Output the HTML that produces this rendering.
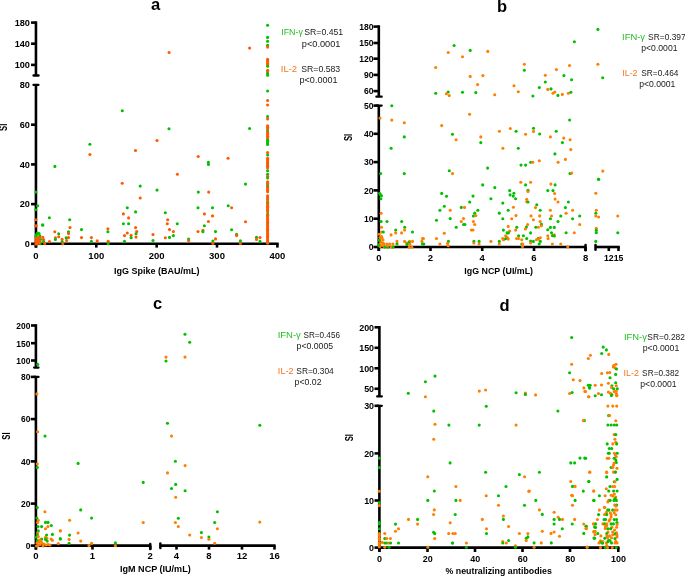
<!DOCTYPE html>
<html><head><meta charset="utf-8"><style>
html,body{margin:0;padding:0;background:#fff;}
svg{display:block;will-change:transform;}
text{font-family:"Liberation Sans",sans-serif;}
</style></head><body>
<svg width="685" height="576" viewBox="0 0 685 576">
<rect width="685" height="576" fill="#fff"/>
<text x="151.0" y="9.9" font-size="16.6" font-weight="bold" text-anchor="start" fill="#000">a</text>
<line x1="35.95" y1="21.3" x2="35.95" y2="75.5" stroke="#000" stroke-width="2.6" stroke-linecap="butt"/>
<line x1="33.5" y1="75.5" x2="38.6" y2="75.5" stroke="#000" stroke-width="2.3" stroke-linecap="round"/>
<line x1="31.050000000000004" y1="22.6" x2="35.95" y2="22.6" stroke="#000" stroke-width="2.6" stroke-linecap="butt"/>
<text x="29.95" y="25.95" font-size="8.2" font-weight="bold" text-anchor="end" fill="#000" textLength="15.3" lengthAdjust="spacingAndGlyphs">180</text>
<line x1="31.050000000000004" y1="43.7" x2="35.95" y2="43.7" stroke="#000" stroke-width="2.6" stroke-linecap="butt"/>
<text x="29.95" y="47.05" font-size="8.2" font-weight="bold" text-anchor="end" fill="#000" textLength="15.3" lengthAdjust="spacingAndGlyphs">140</text>
<line x1="31.050000000000004" y1="64.9" x2="35.95" y2="64.9" stroke="#000" stroke-width="2.6" stroke-linecap="butt"/>
<text x="29.95" y="68.25" font-size="8.2" font-weight="bold" text-anchor="end" fill="#000" textLength="15.3" lengthAdjust="spacingAndGlyphs">100</text>
<line x1="35.95" y1="84.95" x2="35.95" y2="247.6" stroke="#000" stroke-width="2.6" stroke-linecap="butt"/>
<line x1="33.5" y1="84.95" x2="38.400000000000006" y2="84.95" stroke="#000" stroke-width="2.3" stroke-linecap="round"/>
<text x="29.95" y="88.3" font-size="8.2" font-weight="bold" text-anchor="end" fill="#000" textLength="10.2" lengthAdjust="spacingAndGlyphs">80</text>
<line x1="31.050000000000004" y1="124.7" x2="35.95" y2="124.7" stroke="#000" stroke-width="2.6" stroke-linecap="butt"/>
<text x="29.95" y="128.05" font-size="8.2" font-weight="bold" text-anchor="end" fill="#000" textLength="10.2" lengthAdjust="spacingAndGlyphs">60</text>
<line x1="31.050000000000004" y1="164.4" x2="35.95" y2="164.4" stroke="#000" stroke-width="2.6" stroke-linecap="butt"/>
<text x="29.95" y="167.75" font-size="8.2" font-weight="bold" text-anchor="end" fill="#000" textLength="10.2" lengthAdjust="spacingAndGlyphs">40</text>
<line x1="31.050000000000004" y1="204.1" x2="35.95" y2="204.1" stroke="#000" stroke-width="2.6" stroke-linecap="butt"/>
<text x="29.95" y="207.45" font-size="8.2" font-weight="bold" text-anchor="end" fill="#000" textLength="10.2" lengthAdjust="spacingAndGlyphs">20</text>
<line x1="31.050000000000004" y1="243.8" x2="35.95" y2="243.8" stroke="#000" stroke-width="2.6" stroke-linecap="butt"/>
<text x="29.95" y="247.15" font-size="8.2" font-weight="bold" text-anchor="end" fill="#000" textLength="5.1" lengthAdjust="spacingAndGlyphs">0</text>
<line x1="35.95" y1="243.8" x2="278.7" y2="243.8" stroke="#000" stroke-width="2.6" stroke-linecap="butt"/>
<line x1="35.95" y1="243.8" x2="35.95" y2="247.6" stroke="#000" stroke-width="2.6" stroke-linecap="butt"/>
<text x="35.95" y="259.0" font-size="8.4" font-weight="bold" text-anchor="middle" fill="#000" textLength="5.3" lengthAdjust="spacingAndGlyphs">0</text>
<line x1="96.3" y1="243.8" x2="96.3" y2="247.6" stroke="#000" stroke-width="2.6" stroke-linecap="butt"/>
<text x="96.3" y="259.0" font-size="8.4" font-weight="bold" text-anchor="middle" fill="#000" textLength="15.9" lengthAdjust="spacingAndGlyphs">100</text>
<line x1="156.65" y1="243.8" x2="156.65" y2="247.6" stroke="#000" stroke-width="2.6" stroke-linecap="butt"/>
<text x="156.65" y="259.0" font-size="8.4" font-weight="bold" text-anchor="middle" fill="#000" textLength="15.9" lengthAdjust="spacingAndGlyphs">200</text>
<line x1="217.0" y1="243.8" x2="217.0" y2="247.6" stroke="#000" stroke-width="2.6" stroke-linecap="butt"/>
<text x="217.0" y="259.0" font-size="8.4" font-weight="bold" text-anchor="middle" fill="#000" textLength="15.9" lengthAdjust="spacingAndGlyphs">300</text>
<line x1="277.4" y1="243.8" x2="277.4" y2="247.6" stroke="#000" stroke-width="2.6" stroke-linecap="butt"/>
<text x="277.4" y="259.0" font-size="8.4" font-weight="bold" text-anchor="middle" fill="#000" textLength="15.9" lengthAdjust="spacingAndGlyphs">400</text>
<text x="6.9" y="127.3" font-size="10" font-weight="bold" text-anchor="middle" fill="#000" textLength="7.2" lengthAdjust="spacingAndGlyphs" transform="rotate(-90 6.9 127.3)">SI</text>
<text x="497" y="11.8" font-size="16.5" font-weight="bold" text-anchor="start" fill="#000">b</text>
<line x1="378.8" y1="25.3" x2="378.8" y2="96.65" stroke="#000" stroke-width="2.6" stroke-linecap="butt"/>
<line x1="376.40000000000003" y1="96.65" x2="381.7" y2="96.65" stroke="#000" stroke-width="2.3" stroke-linecap="round"/>
<line x1="373.40000000000003" y1="26.6" x2="378.8" y2="26.6" stroke="#000" stroke-width="2.6" stroke-linecap="butt"/>
<text x="373.5" y="29.95" font-size="8.2" font-weight="bold" text-anchor="end" fill="#000" textLength="14.31" lengthAdjust="spacingAndGlyphs">180</text>
<line x1="373.40000000000003" y1="43.0" x2="378.8" y2="43.0" stroke="#000" stroke-width="2.6" stroke-linecap="butt"/>
<text x="373.5" y="46.35" font-size="8.2" font-weight="bold" text-anchor="end" fill="#000" textLength="14.31" lengthAdjust="spacingAndGlyphs">150</text>
<line x1="373.40000000000003" y1="58.7" x2="378.8" y2="58.7" stroke="#000" stroke-width="2.6" stroke-linecap="butt"/>
<text x="373.5" y="62.05" font-size="8.2" font-weight="bold" text-anchor="end" fill="#000" textLength="14.31" lengthAdjust="spacingAndGlyphs">120</text>
<line x1="373.40000000000003" y1="74.9" x2="378.8" y2="74.9" stroke="#000" stroke-width="2.6" stroke-linecap="butt"/>
<text x="373.5" y="78.25" font-size="8.2" font-weight="bold" text-anchor="end" fill="#000" textLength="9.54" lengthAdjust="spacingAndGlyphs">90</text>
<line x1="373.40000000000003" y1="91.1" x2="378.8" y2="91.1" stroke="#000" stroke-width="2.6" stroke-linecap="butt"/>
<text x="373.5" y="94.45" font-size="8.2" font-weight="bold" text-anchor="end" fill="#000" textLength="9.54" lengthAdjust="spacingAndGlyphs">60</text>
<line x1="378.8" y1="105.6" x2="378.8" y2="251.0" stroke="#000" stroke-width="2.6" stroke-linecap="butt"/>
<line x1="376.40000000000003" y1="105.6" x2="381.7" y2="105.6" stroke="#000" stroke-width="2.3" stroke-linecap="round"/>
<line x1="373.40000000000003" y1="105.6" x2="378.8" y2="105.6" stroke="#000" stroke-width="2.6" stroke-linecap="butt"/>
<text x="373.5" y="108.95" font-size="8.2" font-weight="bold" text-anchor="end" fill="#000" textLength="9.54" lengthAdjust="spacingAndGlyphs">50</text>
<line x1="373.40000000000003" y1="133.8" x2="378.8" y2="133.8" stroke="#000" stroke-width="2.6" stroke-linecap="butt"/>
<text x="373.5" y="137.15" font-size="8.2" font-weight="bold" text-anchor="end" fill="#000" textLength="9.54" lengthAdjust="spacingAndGlyphs">40</text>
<line x1="373.40000000000003" y1="162.1" x2="378.8" y2="162.1" stroke="#000" stroke-width="2.6" stroke-linecap="butt"/>
<text x="373.5" y="165.45" font-size="8.2" font-weight="bold" text-anchor="end" fill="#000" textLength="9.54" lengthAdjust="spacingAndGlyphs">30</text>
<line x1="373.40000000000003" y1="190.4" x2="378.8" y2="190.4" stroke="#000" stroke-width="2.6" stroke-linecap="butt"/>
<text x="373.5" y="193.75" font-size="8.2" font-weight="bold" text-anchor="end" fill="#000" textLength="9.54" lengthAdjust="spacingAndGlyphs">20</text>
<line x1="373.40000000000003" y1="218.7" x2="378.8" y2="218.7" stroke="#000" stroke-width="2.6" stroke-linecap="butt"/>
<text x="373.5" y="222.05" font-size="8.2" font-weight="bold" text-anchor="end" fill="#000" textLength="9.54" lengthAdjust="spacingAndGlyphs">10</text>
<line x1="373.40000000000003" y1="247.0" x2="378.8" y2="247.0" stroke="#000" stroke-width="2.6" stroke-linecap="butt"/>
<text x="373.5" y="250.35" font-size="8.2" font-weight="bold" text-anchor="end" fill="#000" textLength="4.77" lengthAdjust="spacingAndGlyphs">0</text>
<line x1="378.8" y1="247.0" x2="585.6" y2="247.0" stroke="#000" stroke-width="2.6" stroke-linecap="butt"/>
<line x1="585.55" y1="244.9" x2="585.55" y2="250.20000000000002" stroke="#000" stroke-width="2.5" stroke-linecap="round"/>
<line x1="378.8" y1="247.0" x2="378.8" y2="251.0" stroke="#000" stroke-width="2.6" stroke-linecap="butt"/>
<text x="378.8" y="260.8" font-size="8.4" font-weight="bold" text-anchor="middle" fill="#000" textLength="5.3" lengthAdjust="spacingAndGlyphs">0</text>
<line x1="430.5" y1="247.0" x2="430.5" y2="251.0" stroke="#000" stroke-width="2.6" stroke-linecap="butt"/>
<text x="430.5" y="260.8" font-size="8.4" font-weight="bold" text-anchor="middle" fill="#000" textLength="5.3" lengthAdjust="spacingAndGlyphs">2</text>
<line x1="482.2" y1="247.0" x2="482.2" y2="251.0" stroke="#000" stroke-width="2.6" stroke-linecap="butt"/>
<text x="482.2" y="260.8" font-size="8.4" font-weight="bold" text-anchor="middle" fill="#000" textLength="5.3" lengthAdjust="spacingAndGlyphs">4</text>
<line x1="534.0" y1="247.0" x2="534.0" y2="251.0" stroke="#000" stroke-width="2.6" stroke-linecap="butt"/>
<text x="534.0" y="260.8" font-size="8.4" font-weight="bold" text-anchor="middle" fill="#000" textLength="5.3" lengthAdjust="spacingAndGlyphs">6</text>
<line x1="585.55" y1="247.0" x2="585.55" y2="251.0" stroke="#000" stroke-width="2.6" stroke-linecap="butt"/>
<text x="585.55" y="260.8" font-size="8.4" font-weight="bold" text-anchor="middle" fill="#000" textLength="5.3" lengthAdjust="spacingAndGlyphs">8</text>
<line x1="595.5" y1="247.0" x2="619.8" y2="247.0" stroke="#000" stroke-width="2.6" stroke-linecap="butt"/>
<line x1="595.5" y1="244.9" x2="595.5" y2="249.70000000000002" stroke="#000" stroke-width="2.5" stroke-linecap="round"/>
<line x1="608.8" y1="247.0" x2="608.8" y2="251.0" stroke="#000" stroke-width="2.6" stroke-linecap="butt"/>
<line x1="618.5" y1="247.0" x2="618.5" y2="251.0" stroke="#000" stroke-width="2.6" stroke-linecap="butt"/>
<text x="613.7" y="260.8" font-size="8.4" font-weight="bold" text-anchor="middle" fill="#000" textLength="19.3" lengthAdjust="spacingAndGlyphs">1215</text>
<text x="352.4" y="137.4" font-size="10" font-weight="bold" text-anchor="middle" fill="#000" textLength="7.2" lengthAdjust="spacingAndGlyphs" transform="rotate(-90 352.4 137.4)">SI</text>
<text x="153.1" y="308.9" font-size="16.5" font-weight="bold" text-anchor="start" fill="#000">c</text>
<line x1="35.9" y1="324.2" x2="35.9" y2="367.6" stroke="#000" stroke-width="2.6" stroke-linecap="butt"/>
<line x1="34.1" y1="367.6" x2="38.5" y2="367.6" stroke="#000" stroke-width="2.3" stroke-linecap="round"/>
<line x1="31.0" y1="325.5" x2="35.9" y2="325.5" stroke="#000" stroke-width="2.6" stroke-linecap="butt"/>
<text x="30.4" y="328.85" font-size="8.2" font-weight="bold" text-anchor="end" fill="#000" textLength="14.04" lengthAdjust="spacingAndGlyphs">200</text>
<line x1="31.0" y1="343.2" x2="35.9" y2="343.2" stroke="#000" stroke-width="2.6" stroke-linecap="butt"/>
<text x="30.4" y="346.55" font-size="8.2" font-weight="bold" text-anchor="end" fill="#000" textLength="14.04" lengthAdjust="spacingAndGlyphs">150</text>
<line x1="31.0" y1="360.5" x2="35.9" y2="360.5" stroke="#000" stroke-width="2.6" stroke-linecap="butt"/>
<text x="30.4" y="363.85" font-size="8.2" font-weight="bold" text-anchor="end" fill="#000" textLength="14.04" lengthAdjust="spacingAndGlyphs">100</text>
<line x1="35.9" y1="376.9" x2="35.9" y2="549.6" stroke="#000" stroke-width="2.6" stroke-linecap="butt"/>
<line x1="34.1" y1="376.9" x2="38.5" y2="376.9" stroke="#000" stroke-width="2.3" stroke-linecap="round"/>
<line x1="30.7" y1="376.9" x2="35.9" y2="376.9" stroke="#000" stroke-width="2.6" stroke-linecap="butt"/>
<text x="30.4" y="380.25" font-size="8.2" font-weight="bold" text-anchor="end" fill="#000" textLength="9.36" lengthAdjust="spacingAndGlyphs">80</text>
<line x1="30.7" y1="419.1" x2="35.9" y2="419.1" stroke="#000" stroke-width="2.6" stroke-linecap="butt"/>
<text x="30.4" y="422.45" font-size="8.2" font-weight="bold" text-anchor="end" fill="#000" textLength="9.36" lengthAdjust="spacingAndGlyphs">60</text>
<line x1="30.7" y1="461.4" x2="35.9" y2="461.4" stroke="#000" stroke-width="2.6" stroke-linecap="butt"/>
<text x="30.4" y="464.75" font-size="8.2" font-weight="bold" text-anchor="end" fill="#000" textLength="9.36" lengthAdjust="spacingAndGlyphs">40</text>
<line x1="30.7" y1="503.6" x2="35.9" y2="503.6" stroke="#000" stroke-width="2.6" stroke-linecap="butt"/>
<text x="30.4" y="506.95" font-size="8.2" font-weight="bold" text-anchor="end" fill="#000" textLength="9.36" lengthAdjust="spacingAndGlyphs">20</text>
<line x1="30.7" y1="545.6" x2="35.9" y2="545.6" stroke="#000" stroke-width="2.6" stroke-linecap="butt"/>
<text x="30.4" y="548.95" font-size="8.2" font-weight="bold" text-anchor="end" fill="#000" textLength="4.68" lengthAdjust="spacingAndGlyphs">0</text>
<line x1="35.9" y1="545.6" x2="150.25" y2="545.6" stroke="#000" stroke-width="2.6" stroke-linecap="butt"/>
<line x1="150.25" y1="543.9000000000001" x2="150.25" y2="549.0" stroke="#000" stroke-width="2.5" stroke-linecap="round"/>
<line x1="35.9" y1="545.6" x2="35.9" y2="549.6" stroke="#000" stroke-width="2.6" stroke-linecap="butt"/>
<text x="35.9" y="559.3" font-size="8.4" font-weight="bold" text-anchor="middle" fill="#000" textLength="5.3" lengthAdjust="spacingAndGlyphs">0</text>
<line x1="92.5" y1="545.6" x2="92.5" y2="549.6" stroke="#000" stroke-width="2.6" stroke-linecap="butt"/>
<text x="92.5" y="559.3" font-size="8.4" font-weight="bold" text-anchor="middle" fill="#000" textLength="5.3" lengthAdjust="spacingAndGlyphs">1</text>
<line x1="150.25" y1="545.6" x2="150.25" y2="549.6" stroke="#000" stroke-width="2.6" stroke-linecap="butt"/>
<text x="150.25" y="559.3" font-size="8.4" font-weight="bold" text-anchor="middle" fill="#000" textLength="5.3" lengthAdjust="spacingAndGlyphs">2</text>
<line x1="160.35" y1="545.6" x2="275.6" y2="545.6" stroke="#000" stroke-width="2.6" stroke-linecap="butt"/>
<line x1="160.35" y1="543.5" x2="160.35" y2="548.0" stroke="#000" stroke-width="2.5" stroke-linecap="round"/>
<line x1="176.5" y1="545.6" x2="176.5" y2="549.6" stroke="#000" stroke-width="2.6" stroke-linecap="butt"/>
<text x="176.5" y="559.3" font-size="8.4" font-weight="bold" text-anchor="middle" fill="#000" textLength="5.3" lengthAdjust="spacingAndGlyphs">4</text>
<line x1="209.0" y1="545.6" x2="209.0" y2="549.6" stroke="#000" stroke-width="2.6" stroke-linecap="butt"/>
<text x="209.0" y="559.3" font-size="8.4" font-weight="bold" text-anchor="middle" fill="#000" textLength="5.3" lengthAdjust="spacingAndGlyphs">8</text>
<line x1="242.0" y1="545.6" x2="242.0" y2="549.6" stroke="#000" stroke-width="2.6" stroke-linecap="butt"/>
<text x="242.0" y="559.3" font-size="8.4" font-weight="bold" text-anchor="middle" fill="#000" textLength="10.6" lengthAdjust="spacingAndGlyphs">12</text>
<line x1="274.5" y1="545.6" x2="274.5" y2="549.6" stroke="#000" stroke-width="2.6" stroke-linecap="butt"/>
<text x="274.5" y="559.3" font-size="8.4" font-weight="bold" text-anchor="middle" fill="#000" textLength="10.6" lengthAdjust="spacingAndGlyphs">16</text>
<text x="10.2" y="436.1" font-size="10" font-weight="bold" text-anchor="middle" fill="#000" textLength="7.2" lengthAdjust="spacingAndGlyphs" transform="rotate(-90 10.2 436.1)">SI</text>
<text x="499.5" y="310.6" font-size="16.5" font-weight="bold" text-anchor="start" fill="#000">d</text>
<line x1="379.4" y1="326.0" x2="379.4" y2="396.4" stroke="#000" stroke-width="2.6" stroke-linecap="butt"/>
<line x1="377.2" y1="396.4" x2="381.79999999999995" y2="396.4" stroke="#000" stroke-width="2.3" stroke-linecap="round"/>
<line x1="374.5" y1="327.3" x2="379.4" y2="327.3" stroke="#000" stroke-width="2.6" stroke-linecap="butt"/>
<text x="374.1" y="330.65" font-size="8.2" font-weight="bold" text-anchor="end" fill="#000" textLength="14.91" lengthAdjust="spacingAndGlyphs">200</text>
<line x1="374.5" y1="347.8" x2="379.4" y2="347.8" stroke="#000" stroke-width="2.6" stroke-linecap="butt"/>
<text x="374.1" y="351.15" font-size="8.2" font-weight="bold" text-anchor="end" fill="#000" textLength="14.91" lengthAdjust="spacingAndGlyphs">150</text>
<line x1="374.5" y1="368.3" x2="379.4" y2="368.3" stroke="#000" stroke-width="2.6" stroke-linecap="butt"/>
<text x="374.1" y="371.65" font-size="8.2" font-weight="bold" text-anchor="end" fill="#000" textLength="14.91" lengthAdjust="spacingAndGlyphs">100</text>
<line x1="374.5" y1="388.75" x2="379.4" y2="388.75" stroke="#000" stroke-width="2.6" stroke-linecap="butt"/>
<text x="374.1" y="392.1" font-size="8.2" font-weight="bold" text-anchor="end" fill="#000" textLength="9.94" lengthAdjust="spacingAndGlyphs">50</text>
<line x1="379.4" y1="405.8" x2="379.4" y2="551.6" stroke="#000" stroke-width="2.6" stroke-linecap="butt"/>
<line x1="377.2" y1="405.8" x2="381.79999999999995" y2="405.8" stroke="#000" stroke-width="2.3" stroke-linecap="round"/>
<line x1="374.5" y1="405.8" x2="379.4" y2="405.8" stroke="#000" stroke-width="2.6" stroke-linecap="butt"/>
<text x="374.1" y="409.15" font-size="8.2" font-weight="bold" text-anchor="end" fill="#000" textLength="9.94" lengthAdjust="spacingAndGlyphs">30</text>
<line x1="374.5" y1="453.4" x2="379.4" y2="453.4" stroke="#000" stroke-width="2.6" stroke-linecap="butt"/>
<text x="374.1" y="456.75" font-size="8.2" font-weight="bold" text-anchor="end" fill="#000" textLength="9.94" lengthAdjust="spacingAndGlyphs">20</text>
<line x1="374.5" y1="500.5" x2="379.4" y2="500.5" stroke="#000" stroke-width="2.6" stroke-linecap="butt"/>
<text x="374.1" y="503.85" font-size="8.2" font-weight="bold" text-anchor="end" fill="#000" textLength="9.94" lengthAdjust="spacingAndGlyphs">10</text>
<line x1="374.5" y1="547.6" x2="379.4" y2="547.6" stroke="#000" stroke-width="2.6" stroke-linecap="butt"/>
<text x="374.1" y="550.95" font-size="8.2" font-weight="bold" text-anchor="end" fill="#000" textLength="4.97" lengthAdjust="spacingAndGlyphs">0</text>
<line x1="379.4" y1="547.6" x2="619.5" y2="547.6" stroke="#000" stroke-width="2.6" stroke-linecap="butt"/>
<line x1="379.4" y1="547.6" x2="379.4" y2="552.0" stroke="#000" stroke-width="2.6" stroke-linecap="butt"/>
<text x="379.59999999999997" y="561.8" font-size="8.4" font-weight="bold" text-anchor="middle" fill="#000" textLength="5.0" lengthAdjust="spacingAndGlyphs">0</text>
<line x1="427.5" y1="547.6" x2="427.5" y2="552.0" stroke="#000" stroke-width="2.6" stroke-linecap="butt"/>
<text x="427.7" y="561.8" font-size="8.4" font-weight="bold" text-anchor="middle" fill="#000" textLength="10.0" lengthAdjust="spacingAndGlyphs">20</text>
<line x1="475.0" y1="547.6" x2="475.0" y2="552.0" stroke="#000" stroke-width="2.6" stroke-linecap="butt"/>
<text x="475.2" y="561.8" font-size="8.4" font-weight="bold" text-anchor="middle" fill="#000" textLength="10.0" lengthAdjust="spacingAndGlyphs">40</text>
<line x1="522.5" y1="547.6" x2="522.5" y2="552.0" stroke="#000" stroke-width="2.6" stroke-linecap="butt"/>
<text x="522.7" y="561.8" font-size="8.4" font-weight="bold" text-anchor="middle" fill="#000" textLength="10.0" lengthAdjust="spacingAndGlyphs">60</text>
<line x1="570.0" y1="547.6" x2="570.0" y2="552.0" stroke="#000" stroke-width="2.6" stroke-linecap="butt"/>
<text x="570.2" y="561.8" font-size="8.4" font-weight="bold" text-anchor="middle" fill="#000" textLength="10.0" lengthAdjust="spacingAndGlyphs">80</text>
<line x1="618.3" y1="547.6" x2="618.3" y2="552.0" stroke="#000" stroke-width="2.6" stroke-linecap="butt"/>
<text x="618.5" y="561.8" font-size="8.4" font-weight="bold" text-anchor="middle" fill="#000" textLength="15.0" lengthAdjust="spacingAndGlyphs">100</text>
<text x="353" y="437.6" font-size="10" font-weight="bold" text-anchor="middle" fill="#000" textLength="7.2" lengthAdjust="spacingAndGlyphs" transform="rotate(-90 353 437.6)">SI</text>
<text x="281.24" y="35.3" font-size="8.2" font-weight="normal" text-anchor="start" fill="#1fbf1f" textLength="21.66" lengthAdjust="spacingAndGlyphs">IFN-&#947;</text>
<text x="304.27" y="35.3" font-size="8.2" font-weight="normal" text-anchor="start" fill="#1a1a1a" textLength="38.88" lengthAdjust="spacingAndGlyphs">SR=0.451</text>
<text x="301.84" y="46.5" font-size="8.2" font-weight="normal" text-anchor="start" fill="#1a1a1a" textLength="38.6" lengthAdjust="spacingAndGlyphs">p&lt;0.0001</text>
<text x="280.75" y="71.8" font-size="8.2" font-weight="normal" text-anchor="start" fill="#f7741f" textLength="16.38" lengthAdjust="spacingAndGlyphs">IL-2</text>
<text x="301.21" y="71.8" font-size="8.2" font-weight="normal" text-anchor="start" fill="#1a1a1a" textLength="39.02" lengthAdjust="spacingAndGlyphs">SR=0.583</text>
<text x="299.54" y="83.0" font-size="8.2" font-weight="normal" text-anchor="start" fill="#1a1a1a" textLength="38.05" lengthAdjust="spacingAndGlyphs">p&lt;0.0001</text>
<text x="622.09" y="39.5" font-size="8.2" font-weight="normal" text-anchor="start" fill="#1fbf1f" textLength="23.01" lengthAdjust="spacingAndGlyphs">IFN-&#947;</text>
<text x="648.14" y="39.5" font-size="8.2" font-weight="normal" text-anchor="start" fill="#1a1a1a" textLength="37.6" lengthAdjust="spacingAndGlyphs">SR=0.397</text>
<text x="641.28" y="50.5" font-size="8.2" font-weight="normal" text-anchor="start" fill="#1a1a1a" textLength="36.23" lengthAdjust="spacingAndGlyphs">p&lt;0.0001</text>
<text x="622.23" y="75.5" font-size="8.2" font-weight="normal" text-anchor="start" fill="#f7741f" textLength="15.34" lengthAdjust="spacingAndGlyphs">IL-2</text>
<text x="641.28" y="75.5" font-size="8.2" font-weight="normal" text-anchor="start" fill="#1a1a1a" textLength="37.19" lengthAdjust="spacingAndGlyphs">SR=0.464</text>
<text x="639.18" y="86.5" font-size="8.2" font-weight="normal" text-anchor="start" fill="#1a1a1a" textLength="36.16" lengthAdjust="spacingAndGlyphs">p&lt;0.0001</text>
<text x="277.68" y="337.75" font-size="8.2" font-weight="normal" text-anchor="start" fill="#1fbf1f" textLength="23.18" lengthAdjust="spacingAndGlyphs">IFN-&#947;</text>
<text x="303.5" y="337.75" font-size="8.2" font-weight="normal" text-anchor="start" fill="#1a1a1a" textLength="36.45" lengthAdjust="spacingAndGlyphs">SR=0.456</text>
<text x="296.56" y="348.7" font-size="8.2" font-weight="normal" text-anchor="start" fill="#1a1a1a" textLength="36.62" lengthAdjust="spacingAndGlyphs">p&lt;0.0005</text>
<text x="277.88" y="373.75" font-size="8.2" font-weight="normal" text-anchor="start" fill="#f7741f" textLength="15.56" lengthAdjust="spacingAndGlyphs">IL-2</text>
<text x="296.39" y="373.75" font-size="8.2" font-weight="normal" text-anchor="start" fill="#1a1a1a" textLength="37.41" lengthAdjust="spacingAndGlyphs">SR=0.304</text>
<text x="294.57" y="385.0" font-size="8.2" font-weight="normal" text-anchor="start" fill="#1a1a1a" textLength="26.96" lengthAdjust="spacingAndGlyphs">p&lt;0.02</text>
<text x="624.02" y="339.75" font-size="8.2" font-weight="normal" text-anchor="start" fill="#1fbf1f" textLength="22.93" lengthAdjust="spacingAndGlyphs">IFN-&#947;</text>
<text x="647.32" y="339.75" font-size="8.2" font-weight="normal" text-anchor="start" fill="#1a1a1a" textLength="37.6" lengthAdjust="spacingAndGlyphs">SR=0.282</text>
<text x="642.7" y="350.7" font-size="8.2" font-weight="normal" text-anchor="start" fill="#1a1a1a" textLength="36.64" lengthAdjust="spacingAndGlyphs">p&lt;0.0001</text>
<text x="623.61" y="375.75" font-size="8.2" font-weight="normal" text-anchor="start" fill="#f7741f" textLength="15.5" lengthAdjust="spacingAndGlyphs">IL-2</text>
<text x="642.13" y="375.75" font-size="8.2" font-weight="normal" text-anchor="start" fill="#1a1a1a" textLength="37.08" lengthAdjust="spacingAndGlyphs">SR=0.382</text>
<text x="640.31" y="386.7" font-size="8.2" font-weight="normal" text-anchor="start" fill="#1a1a1a" textLength="36.29" lengthAdjust="spacingAndGlyphs">p&lt;0.0001</text>
<text x="113.92" y="273.9" font-size="8.6" font-weight="bold" text-anchor="start" fill="#000" textLength="85.56" lengthAdjust="spacingAndGlyphs">IgG Spike (BAU/mL)</text>
<text x="464.38" y="274.0" font-size="8.6" font-weight="bold" text-anchor="start" fill="#000" textLength="68.65" lengthAdjust="spacingAndGlyphs">IgG NCP (UI/mL)</text>
<text x="120.06" y="572.4" font-size="8.6" font-weight="bold" text-anchor="start" fill="#000" textLength="70.65" lengthAdjust="spacingAndGlyphs">IgM NCP (IU/mL)</text>
<text x="445.56" y="573.8" font-size="8.6" font-weight="bold" text-anchor="start" fill="#000" textLength="106.3" lengthAdjust="spacingAndGlyphs">% neutralizing antibodies</text>
<circle cx="169.1" cy="52.5" r="1.55" fill="#ff5a00"/>
<circle cx="249.6" cy="48.1" r="1.55" fill="#ff5a00"/>
<circle cx="122.3" cy="110.7" r="1.55" fill="#00c000"/>
<circle cx="249.6" cy="128.5" r="1.55" fill="#00c000"/>
<circle cx="169.0" cy="128.7" r="1.55" fill="#00c000"/>
<circle cx="157.0" cy="140.5" r="1.55" fill="#ff5a00"/>
<circle cx="135.5" cy="150.5" r="1.55" fill="#ff5a00"/>
<circle cx="198.2" cy="156.5" r="1.55" fill="#ff5a00"/>
<circle cx="208.4" cy="162.3" r="1.55" fill="#00c000"/>
<circle cx="208.4" cy="164.4" r="1.55" fill="#00c000"/>
<circle cx="228.1" cy="158.3" r="1.55" fill="#ff5a00"/>
<circle cx="177.4" cy="174.3" r="1.55" fill="#ff5a00"/>
<circle cx="89.9" cy="144.2" r="1.55" fill="#00c000"/>
<circle cx="89.9" cy="154.5" r="1.55" fill="#ff5a00"/>
<circle cx="54.9" cy="166.4" r="1.55" fill="#00c000"/>
<circle cx="35.8" cy="192.1" r="1.55" fill="#00c000"/>
<circle cx="37.6" cy="205.8" r="1.55" fill="#00c000"/>
<circle cx="35.8" cy="209.8" r="1.55" fill="#00c000"/>
<circle cx="35.8" cy="219.8" r="1.55" fill="#ff5a00"/>
<circle cx="35.8" cy="226" r="1.55" fill="#ff5a00"/>
<circle cx="49.4" cy="217.7" r="1.55" fill="#00c000"/>
<circle cx="42.7" cy="224.7" r="1.55" fill="#00c000"/>
<circle cx="69.7" cy="219.7" r="1.55" fill="#00c000"/>
<circle cx="70" cy="227.6" r="1.55" fill="#ff5a00"/>
<circle cx="81.5" cy="229.6" r="1.55" fill="#00c000"/>
<circle cx="68.5" cy="231.8" r="1.55" fill="#00c000"/>
<circle cx="68.5" cy="233.6" r="1.55" fill="#ff5a00"/>
<circle cx="68.5" cy="237.6" r="1.55" fill="#ff5a00"/>
<circle cx="66.2" cy="237.9" r="1.55" fill="#00c000"/>
<circle cx="66.6" cy="240.6" r="1.55" fill="#ff5a00"/>
<circle cx="54.8" cy="231.8" r="1.55" fill="#ff5a00"/>
<circle cx="58.7" cy="233.8" r="1.55" fill="#00c000"/>
<circle cx="58.7" cy="236.7" r="1.55" fill="#ff5a00"/>
<circle cx="55.4" cy="237.7" r="1.55" fill="#ff5a00"/>
<circle cx="55.4" cy="239.5" r="1.55" fill="#00c000"/>
<circle cx="62.1" cy="239.4" r="1.55" fill="#ff5a00"/>
<circle cx="62.1" cy="241.7" r="1.55" fill="#00c000"/>
<circle cx="62.8" cy="243.7" r="1.55" fill="#ff5a00"/>
<circle cx="81.5" cy="237.6" r="1.55" fill="#ff5a00"/>
<circle cx="91.4" cy="237.6" r="1.55" fill="#ff5a00"/>
<circle cx="91.4" cy="241.4" r="1.55" fill="#00c000"/>
<circle cx="97.2" cy="240.9" r="1.55" fill="#ff5a00"/>
<circle cx="49.5" cy="241.6" r="1.55" fill="#ff5a00"/>
<circle cx="107.9" cy="228.7" r="1.55" fill="#ff5a00"/>
<circle cx="107.9" cy="231.8" r="1.55" fill="#00c000"/>
<circle cx="108.2" cy="241.2" r="1.55" fill="#ff5a00"/>
<circle cx="108.2" cy="243.7" r="1.55" fill="#00c000"/>
<circle cx="36.4" cy="225.7" r="1.55" fill="#ff5a00"/>
<circle cx="42.7" cy="225.2" r="1.55" fill="#00c000"/>
<circle cx="36.5" cy="234.5" r="1.55" fill="#00c000"/>
<circle cx="39" cy="233.5" r="1.55" fill="#00c000"/>
<circle cx="39.8" cy="235.8" r="1.55" fill="#00c000"/>
<circle cx="36" cy="236.3" r="1.55" fill="#00c000"/>
<circle cx="37.5" cy="233" r="1.55" fill="#00c000"/>
<circle cx="42.7" cy="237.3" r="1.55" fill="#ff5a00"/>
<circle cx="43.6" cy="239.5" r="1.55" fill="#ff5a00"/>
<circle cx="43.6" cy="241.6" r="1.55" fill="#00c000"/>
<circle cx="44.7" cy="243.6" r="1.55" fill="#ff5a00"/>
<circle cx="40.1" cy="243.8" r="1.55" fill="#00c000"/>
<circle cx="40.5" cy="239.5" r="1.55" fill="#00c000"/>
<circle cx="36" cy="238" r="1.55" fill="#ff5a00"/>
<circle cx="37.5" cy="239" r="1.55" fill="#ff5a00"/>
<circle cx="36" cy="240.5" r="1.55" fill="#ff5a00"/>
<circle cx="38" cy="241" r="1.55" fill="#ff5a00"/>
<circle cx="36.5" cy="242.5" r="1.55" fill="#ff5a00"/>
<circle cx="38.5" cy="243" r="1.55" fill="#ff5a00"/>
<circle cx="40" cy="241.5" r="1.55" fill="#ff5a00"/>
<circle cx="39.5" cy="238" r="1.55" fill="#ff5a00"/>
<circle cx="35.8" cy="244" r="1.55" fill="#ff5a00"/>
<circle cx="37" cy="244" r="1.55" fill="#ff5a00"/>
<circle cx="38.6" cy="237.6" r="1.55" fill="#ff5a00"/>
<circle cx="122.2" cy="183.2" r="1.55" fill="#ff5a00"/>
<circle cx="140.2" cy="186.1" r="1.55" fill="#00c000"/>
<circle cx="140.2" cy="198" r="1.55" fill="#ff5a00"/>
<circle cx="157" cy="190.1" r="1.55" fill="#00c000"/>
<circle cx="127.3" cy="207.8" r="1.55" fill="#00c000"/>
<circle cx="135.6" cy="211.9" r="1.55" fill="#00c000"/>
<circle cx="123.4" cy="213.9" r="1.55" fill="#ff5a00"/>
<circle cx="128.6" cy="217.9" r="1.55" fill="#ff5a00"/>
<circle cx="123.4" cy="223.8" r="1.55" fill="#00c000"/>
<circle cx="128.6" cy="223.8" r="1.55" fill="#00c000"/>
<circle cx="135.6" cy="227.6" r="1.55" fill="#ff5a00"/>
<circle cx="136.7" cy="231.6" r="1.55" fill="#ff5a00"/>
<circle cx="136" cy="233.7" r="1.55" fill="#00c000"/>
<circle cx="136" cy="237.1" r="1.55" fill="#ff5a00"/>
<circle cx="127.3" cy="233" r="1.55" fill="#ff5a00"/>
<circle cx="124.5" cy="235.6" r="1.55" fill="#ff5a00"/>
<circle cx="131.1" cy="235.4" r="1.55" fill="#ff5a00"/>
<circle cx="131.1" cy="237.7" r="1.55" fill="#00c000"/>
<circle cx="124.5" cy="241.4" r="1.55" fill="#00c000"/>
<circle cx="153" cy="234.5" r="1.55" fill="#ff5a00"/>
<circle cx="153" cy="240.5" r="1.55" fill="#00c000"/>
<circle cx="165.3" cy="212.8" r="1.55" fill="#00c000"/>
<circle cx="167.7" cy="219.7" r="1.55" fill="#ff5a00"/>
<circle cx="167.3" cy="223.8" r="1.55" fill="#ff5a00"/>
<circle cx="177.3" cy="223.8" r="1.55" fill="#00c000"/>
<circle cx="169.5" cy="229.6" r="1.55" fill="#ff5a00"/>
<circle cx="173.4" cy="231.6" r="1.55" fill="#ff5a00"/>
<circle cx="173.4" cy="235.6" r="1.55" fill="#00c000"/>
<circle cx="169.5" cy="237.4" r="1.55" fill="#00c000"/>
<circle cx="165.3" cy="237.7" r="1.55" fill="#ff5a00"/>
<circle cx="188.6" cy="239.1" r="1.55" fill="#00c000"/>
<circle cx="188.6" cy="240.6" r="1.55" fill="#ff5a00"/>
<circle cx="198.3" cy="192.1" r="1.55" fill="#00c000"/>
<circle cx="208.7" cy="192.1" r="1.55" fill="#ff5a00"/>
<circle cx="245.5" cy="184.1" r="1.55" fill="#00c000"/>
<circle cx="198" cy="207.8" r="1.55" fill="#00c000"/>
<circle cx="212.5" cy="207.8" r="1.55" fill="#00c000"/>
<circle cx="228.2" cy="205.8" r="1.55" fill="#00c000"/>
<circle cx="231.6" cy="207.8" r="1.55" fill="#ff5a00"/>
<circle cx="204.4" cy="213.9" r="1.55" fill="#ff5a00"/>
<circle cx="212.5" cy="215.9" r="1.55" fill="#ff5a00"/>
<circle cx="208.4" cy="221.5" r="1.55" fill="#ff5a00"/>
<circle cx="245.5" cy="221.7" r="1.55" fill="#ff5a00"/>
<circle cx="204.4" cy="225.8" r="1.55" fill="#00c000"/>
<circle cx="198" cy="231.5" r="1.55" fill="#ff5a00"/>
<circle cx="202.9" cy="230.4" r="1.55" fill="#ff5a00"/>
<circle cx="202.9" cy="231.8" r="1.55" fill="#00c000"/>
<circle cx="215.5" cy="231.6" r="1.55" fill="#00c000"/>
<circle cx="231.6" cy="229.8" r="1.55" fill="#00c000"/>
<circle cx="236.6" cy="234.4" r="1.55" fill="#00c000"/>
<circle cx="236.6" cy="235.6" r="1.55" fill="#ff5a00"/>
<circle cx="215.5" cy="238.9" r="1.55" fill="#ff5a00"/>
<circle cx="212.9" cy="241.1" r="1.55" fill="#00c000"/>
<circle cx="212.9" cy="243.5" r="1.55" fill="#ff5a00"/>
<circle cx="240.4" cy="240.9" r="1.55" fill="#00c000"/>
<circle cx="240.4" cy="243.5" r="1.55" fill="#ff5a00"/>
<circle cx="256.5" cy="237.3" r="1.55" fill="#00c000"/>
<circle cx="256.5" cy="239.4" r="1.55" fill="#ff5a00"/>
<circle cx="260" cy="237.6" r="1.55" fill="#ff5a00"/>
<circle cx="260" cy="241.4" r="1.55" fill="#00c000"/>
<circle cx="267.6" cy="25.3" r="1.55" fill="#00c000"/>
<circle cx="267.6" cy="37.4" r="1.55" fill="#00c000"/>
<circle cx="267.6" cy="41.3" r="1.55" fill="#00c000"/>
<circle cx="267.6" cy="45.4" r="1.55" fill="#00c000"/>
<circle cx="267.6" cy="47.1" r="1.55" fill="#ff5a00"/>
<circle cx="267.6" cy="59.2" r="1.55" fill="#ff5a00"/>
<circle cx="267.6" cy="60.6" r="1.55" fill="#ff5a00"/>
<circle cx="267.6" cy="62.0" r="1.55" fill="#ff5a00"/>
<circle cx="267.6" cy="63.4" r="1.55" fill="#ff5a00"/>
<circle cx="267.6" cy="64.8" r="1.55" fill="#ff5a00"/>
<circle cx="267.6" cy="66.2" r="1.55" fill="#00c000"/>
<circle cx="267.6" cy="70.3" r="1.55" fill="#ff5a00"/>
<circle cx="267.6" cy="71.7" r="1.55" fill="#ff5a00"/>
<circle cx="267.6" cy="73.5" r="1.55" fill="#00c000"/>
<circle cx="267.6" cy="75.3" r="1.55" fill="#00c000"/>
<circle cx="267.6" cy="91" r="1.55" fill="#00c000"/>
<circle cx="267.6" cy="100.5" r="1.55" fill="#ff5a00"/>
<circle cx="267.6" cy="105" r="1.55" fill="#ff5a00"/>
<circle cx="267.6" cy="116.5" r="1.55" fill="#00c000"/>
<circle cx="267.6" cy="118.9" r="1.55" fill="#ff5a00"/>
<circle cx="267.6" cy="125.8" r="1.55" fill="#ff5a00"/>
<circle cx="267.6" cy="127.2" r="1.55" fill="#ff5a00"/>
<circle cx="267.6" cy="128.6" r="1.55" fill="#ff5a00"/>
<circle cx="267.6" cy="130.9" r="1.55" fill="#00c000"/>
<circle cx="267.6" cy="132" r="1.55" fill="#ff5a00"/>
<circle cx="267.6" cy="133.4" r="1.55" fill="#ff5a00"/>
<circle cx="267.6" cy="134.8" r="1.55" fill="#ff5a00"/>
<circle cx="267.6" cy="136.2" r="1.55" fill="#ff5a00"/>
<circle cx="267.6" cy="137.6" r="1.55" fill="#ff5a00"/>
<circle cx="267.6" cy="139.0" r="1.55" fill="#ff5a00"/>
<circle cx="267.6" cy="140.3" r="1.55" fill="#00c000"/>
<circle cx="267.6" cy="141.7" r="1.55" fill="#00c000"/>
<circle cx="267.6" cy="143.1" r="1.55" fill="#00c000"/>
<circle cx="267.6" cy="144.5" r="1.55" fill="#00c000"/>
<circle cx="267.6" cy="152.6" r="1.55" fill="#ff5a00"/>
<circle cx="267.6" cy="155" r="1.55" fill="#00c000"/>
<circle cx="267.6" cy="158.2" r="1.55" fill="#ff5a00"/>
<circle cx="267.6" cy="159.6" r="1.55" fill="#ff5a00"/>
<circle cx="267.6" cy="161.0" r="1.55" fill="#ff5a00"/>
<circle cx="267.6" cy="162.4" r="1.55" fill="#ff5a00"/>
<circle cx="267.6" cy="163.8" r="1.55" fill="#ff5a00"/>
<circle cx="267.6" cy="165.2" r="1.55" fill="#ff5a00"/>
<circle cx="267.6" cy="166.6" r="1.55" fill="#ff5a00"/>
<circle cx="267.6" cy="168.0" r="1.55" fill="#ff5a00"/>
<circle cx="267.6" cy="170.7" r="1.55" fill="#00c000"/>
<circle cx="267.6" cy="174.2" r="1.55" fill="#00c000"/>
<circle cx="267.6" cy="176.2" r="1.55" fill="#ff5a00"/>
<circle cx="267.6" cy="178" r="1.55" fill="#00c000"/>
<circle cx="267.6" cy="181.8" r="1.55" fill="#ff5a00"/>
<circle cx="267.6" cy="183.2" r="1.55" fill="#ff5a00"/>
<circle cx="267.6" cy="184.6" r="1.55" fill="#ff5a00"/>
<circle cx="267.6" cy="186.4" r="1.55" fill="#00c000"/>
<circle cx="267.6" cy="187.6" r="1.55" fill="#ff5a00"/>
<circle cx="267.6" cy="189.0" r="1.55" fill="#ff5a00"/>
<circle cx="267.6" cy="190.4" r="1.55" fill="#ff5a00"/>
<circle cx="267.6" cy="191.8" r="1.55" fill="#ff5a00"/>
<circle cx="267.6" cy="195.7" r="1.55" fill="#ff5a00"/>
<circle cx="267.6" cy="197.1" r="1.55" fill="#ff5a00"/>
<circle cx="267.6" cy="198.5" r="1.55" fill="#ff5a00"/>
<circle cx="267.6" cy="199.9" r="1.55" fill="#ff5a00"/>
<circle cx="267.6" cy="202.3" r="1.55" fill="#00c000"/>
<circle cx="267.6" cy="203.4" r="1.55" fill="#ff5a00"/>
<circle cx="267.6" cy="204.8" r="1.55" fill="#ff5a00"/>
<circle cx="267.6" cy="206.2" r="1.55" fill="#ff5a00"/>
<circle cx="267.6" cy="207.6" r="1.55" fill="#ff5a00"/>
<circle cx="267.6" cy="209.0" r="1.55" fill="#ff5a00"/>
<circle cx="267.6" cy="210.4" r="1.55" fill="#ff5a00"/>
<circle cx="267.6" cy="211.8" r="1.55" fill="#ff5a00"/>
<circle cx="267.6" cy="214.2" r="1.55" fill="#00c000"/>
<circle cx="267.6" cy="215.3" r="1.55" fill="#ff5a00"/>
<circle cx="267.6" cy="216.7" r="1.55" fill="#ff5a00"/>
<circle cx="267.6" cy="218.1" r="1.55" fill="#ff5a00"/>
<circle cx="267.6" cy="219.5" r="1.55" fill="#ff5a00"/>
<circle cx="267.6" cy="220.9" r="1.55" fill="#ff5a00"/>
<circle cx="267.6" cy="222.3" r="1.55" fill="#ff5a00"/>
<circle cx="267.6" cy="223.7" r="1.55" fill="#ff5a00"/>
<circle cx="267.6" cy="225.1" r="1.55" fill="#ff5a00"/>
<circle cx="267.6" cy="226.5" r="1.55" fill="#ff5a00"/>
<circle cx="267.6" cy="227.9" r="1.55" fill="#ff5a00"/>
<circle cx="267.6" cy="229.3" r="1.55" fill="#ff5a00"/>
<circle cx="267.6" cy="230.7" r="1.55" fill="#ff5a00"/>
<circle cx="267.6" cy="232.1" r="1.55" fill="#ff5a00"/>
<circle cx="267.6" cy="233.5" r="1.55" fill="#ff5a00"/>
<circle cx="267.6" cy="234.9" r="1.55" fill="#ff5a00"/>
<circle cx="267.6" cy="236.3" r="1.55" fill="#ff5a00"/>
<circle cx="267.6" cy="237.7" r="1.55" fill="#ff5a00"/>
<circle cx="267.6" cy="239.1" r="1.55" fill="#ff5a00"/>
<circle cx="267.6" cy="240.5" r="1.55" fill="#ff5a00"/>
<circle cx="267.6" cy="241.9" r="1.55" fill="#ff5a00"/>
<circle cx="267.6" cy="243.3" r="1.55" fill="#ff5a00"/>
<circle cx="454.1" cy="45.5" r="1.55" fill="#00c000"/>
<circle cx="448.2" cy="52.5" r="1.55" fill="#ff7f00"/>
<circle cx="435.7" cy="67.5" r="1.55" fill="#ff7f00"/>
<circle cx="435.7" cy="93.2" r="1.55" fill="#00c000"/>
<circle cx="448.2" cy="92" r="1.55" fill="#00c000"/>
<circle cx="446.4" cy="93.8" r="1.55" fill="#ff7f00"/>
<circle cx="449.2" cy="95.6" r="1.55" fill="#ff7f00"/>
<circle cx="470.2" cy="50.4" r="1.55" fill="#00c000"/>
<circle cx="487.8" cy="51.4" r="1.55" fill="#ff7f00"/>
<circle cx="462.5" cy="56.8" r="1.55" fill="#ff7f00"/>
<circle cx="524.4" cy="64.3" r="1.55" fill="#ff7f00"/>
<circle cx="524.4" cy="70.3" r="1.55" fill="#00c000"/>
<circle cx="470.2" cy="76.4" r="1.55" fill="#ff7f00"/>
<circle cx="482.9" cy="75.6" r="1.55" fill="#ff7f00"/>
<circle cx="477.6" cy="84.6" r="1.55" fill="#ff7f00"/>
<circle cx="514" cy="85.7" r="1.55" fill="#ff7f00"/>
<circle cx="518.3" cy="91.7" r="1.55" fill="#ff7f00"/>
<circle cx="462.5" cy="92.2" r="1.55" fill="#00c000"/>
<circle cx="475.8" cy="92.6" r="1.55" fill="#00c000"/>
<circle cx="494.7" cy="94.8" r="1.55" fill="#ff7f00"/>
<circle cx="532.9" cy="96" r="1.55" fill="#00c000"/>
<circle cx="597.9" cy="29.4" r="1.55" fill="#00c000"/>
<circle cx="574.4" cy="41.8" r="1.55" fill="#00c000"/>
<circle cx="569.5" cy="65.5" r="1.55" fill="#ff7f00"/>
<circle cx="597.9" cy="64.3" r="1.55" fill="#ff7f00"/>
<circle cx="556.4" cy="69.6" r="1.55" fill="#ff7f00"/>
<circle cx="545.3" cy="75.2" r="1.55" fill="#ff7f00"/>
<circle cx="563.9" cy="75.6" r="1.55" fill="#00c000"/>
<circle cx="571.6" cy="79.8" r="1.55" fill="#00c000"/>
<circle cx="545.3" cy="82" r="1.55" fill="#00c000"/>
<circle cx="602.7" cy="77.7" r="1.55" fill="#00c000"/>
<circle cx="539.3" cy="87.5" r="1.55" fill="#00c000"/>
<circle cx="547.8" cy="89.4" r="1.55" fill="#ff7f00"/>
<circle cx="551" cy="88.9" r="1.55" fill="#00c000"/>
<circle cx="553" cy="93.2" r="1.55" fill="#ff7f00"/>
<circle cx="554.8" cy="92" r="1.55" fill="#ff7f00"/>
<circle cx="557.9" cy="95.4" r="1.55" fill="#00c000"/>
<circle cx="562.3" cy="94.4" r="1.55" fill="#ff7f00"/>
<circle cx="568.4" cy="93.2" r="1.55" fill="#ff7f00"/>
<circle cx="570.9" cy="92.2" r="1.55" fill="#00c000"/>
<circle cx="391.8" cy="105.8" r="1.55" fill="#00c000"/>
<circle cx="380" cy="118.1" r="1.55" fill="#ff7f00"/>
<circle cx="391.8" cy="120.1" r="1.55" fill="#ff7f00"/>
<circle cx="404.3" cy="122.8" r="1.55" fill="#ff7f00"/>
<circle cx="441.7" cy="125.6" r="1.55" fill="#ff7f00"/>
<circle cx="404.3" cy="136.9" r="1.55" fill="#00c000"/>
<circle cx="452.5" cy="134.2" r="1.55" fill="#00c000"/>
<circle cx="391.1" cy="148.2" r="1.55" fill="#00c000"/>
<circle cx="380.6" cy="173.6" r="1.55" fill="#00c000"/>
<circle cx="404.3" cy="173.6" r="1.55" fill="#00c000"/>
<circle cx="449.3" cy="170.8" r="1.55" fill="#00c000"/>
<circle cx="452.5" cy="173.6" r="1.55" fill="#ff7f00"/>
<circle cx="469.6" cy="114.3" r="1.55" fill="#ff7f00"/>
<circle cx="510.3" cy="128.5" r="1.55" fill="#ff7f00"/>
<circle cx="499.4" cy="131.25" r="1.55" fill="#ff7f00"/>
<circle cx="516.1" cy="131.25" r="1.55" fill="#00c000"/>
<circle cx="533.5" cy="128.3" r="1.55" fill="#00c000"/>
<circle cx="533.5" cy="131.4" r="1.55" fill="#ff7f00"/>
<circle cx="525.6" cy="134.2" r="1.55" fill="#ff7f00"/>
<circle cx="456.1" cy="139.7" r="1.55" fill="#ff7f00"/>
<circle cx="480.8" cy="136.9" r="1.55" fill="#ff7f00"/>
<circle cx="480.8" cy="142.6" r="1.55" fill="#00c000"/>
<circle cx="502.9" cy="148.2" r="1.55" fill="#ff7f00"/>
<circle cx="518.3" cy="148.2" r="1.55" fill="#00c000"/>
<circle cx="487.6" cy="168.1" r="1.55" fill="#00c000"/>
<circle cx="521" cy="165.1" r="1.55" fill="#00c000"/>
<circle cx="525.6" cy="165.1" r="1.55" fill="#00c000"/>
<circle cx="530.7" cy="162.2" r="1.55" fill="#00c000"/>
<circle cx="532.8" cy="162.2" r="1.55" fill="#ff7f00"/>
<circle cx="569.6" cy="120" r="1.55" fill="#00c000"/>
<circle cx="556.25" cy="131.25" r="1.55" fill="#00c000"/>
<circle cx="539.7" cy="134" r="1.55" fill="#00c000"/>
<circle cx="550.4" cy="136.9" r="1.55" fill="#ff7f00"/>
<circle cx="563.75" cy="138.1" r="1.55" fill="#ff7f00"/>
<circle cx="570.1" cy="139.7" r="1.55" fill="#ff7f00"/>
<circle cx="562.4" cy="142.6" r="1.55" fill="#00c000"/>
<circle cx="570.8" cy="149.6" r="1.55" fill="#ff7f00"/>
<circle cx="554.9" cy="153.9" r="1.55" fill="#00c000"/>
<circle cx="539.3" cy="160.8" r="1.55" fill="#ff7f00"/>
<circle cx="558.1" cy="162.2" r="1.55" fill="#ff7f00"/>
<circle cx="565.4" cy="159.4" r="1.55" fill="#ff7f00"/>
<circle cx="570" cy="173.6" r="1.55" fill="#00c000"/>
<circle cx="571.7" cy="173.1" r="1.55" fill="#ff7f00"/>
<circle cx="602.8" cy="171.1" r="1.55" fill="#ff7f00"/>
<circle cx="598.5" cy="179.2" r="1.55" fill="#00c000"/>
<circle cx="379.6" cy="193.2" r="1.55" fill="#00c000"/>
<circle cx="380.2" cy="194.5" r="1.55" fill="#00c000"/>
<circle cx="381.5" cy="195.8" r="1.55" fill="#00c000"/>
<circle cx="380.9" cy="198.8" r="1.55" fill="#00c000"/>
<circle cx="381.1" cy="213.2" r="1.55" fill="#ff7f00"/>
<circle cx="381.1" cy="221.5" r="1.55" fill="#00c000"/>
<circle cx="387" cy="221.5" r="1.55" fill="#00c000"/>
<circle cx="401.7" cy="221.5" r="1.55" fill="#00c000"/>
<circle cx="381.5" cy="227.3" r="1.55" fill="#ff7f00"/>
<circle cx="381.5" cy="232" r="1.55" fill="#ff7f00"/>
<circle cx="383.3" cy="232" r="1.55" fill="#00c000"/>
<circle cx="379.2" cy="234.2" r="1.55" fill="#ff7f00"/>
<circle cx="391.1" cy="234.9" r="1.55" fill="#ff7f00"/>
<circle cx="395.7" cy="230" r="1.55" fill="#00c000"/>
<circle cx="395.7" cy="232.9" r="1.55" fill="#ff7f00"/>
<circle cx="401.6" cy="232.9" r="1.55" fill="#ff7f00"/>
<circle cx="404.7" cy="227.2" r="1.55" fill="#00c000"/>
<circle cx="404.6" cy="230.1" r="1.55" fill="#ff7f00"/>
<circle cx="412.5" cy="232" r="1.55" fill="#00c000"/>
<circle cx="380" cy="237.5" r="1.55" fill="#ff7f00"/>
<circle cx="382" cy="238" r="1.55" fill="#ff7f00"/>
<circle cx="383" cy="240" r="1.55" fill="#ff7f00"/>
<circle cx="380" cy="240" r="1.55" fill="#ff7f00"/>
<circle cx="381" cy="242" r="1.55" fill="#ff7f00"/>
<circle cx="383" cy="243" r="1.55" fill="#ff7f00"/>
<circle cx="380" cy="244" r="1.55" fill="#ff7f00"/>
<circle cx="382" cy="245.5" r="1.55" fill="#ff7f00"/>
<circle cx="380" cy="246.5" r="1.55" fill="#ff7f00"/>
<circle cx="384" cy="246.5" r="1.55" fill="#ff7f00"/>
<circle cx="381.5" cy="236.5" r="1.55" fill="#ff7f00"/>
<circle cx="379.2" cy="240.2" r="1.55" fill="#00c000"/>
<circle cx="378.6" cy="245.4" r="1.55" fill="#00c000"/>
<circle cx="384.2" cy="244" r="1.55" fill="#ff7f00"/>
<circle cx="387.1" cy="244" r="1.55" fill="#ff7f00"/>
<circle cx="389.7" cy="244" r="1.55" fill="#ff7f00"/>
<circle cx="392.9" cy="244" r="1.55" fill="#ff7f00"/>
<circle cx="384.8" cy="247.1" r="1.55" fill="#00c000"/>
<circle cx="387.7" cy="247.1" r="1.55" fill="#00c000"/>
<circle cx="390.9" cy="247.1" r="1.55" fill="#ff7f00"/>
<circle cx="393.2" cy="247.1" r="1.55" fill="#00c000"/>
<circle cx="387.1" cy="245.7" r="1.55" fill="#ff7f00"/>
<circle cx="397" cy="241.4" r="1.55" fill="#ff7f00"/>
<circle cx="397" cy="244" r="1.55" fill="#00c000"/>
<circle cx="404.6" cy="241.4" r="1.55" fill="#ff7f00"/>
<circle cx="406.7" cy="243.1" r="1.55" fill="#ff7f00"/>
<circle cx="407" cy="244.6" r="1.55" fill="#00c000"/>
<circle cx="409.6" cy="241.4" r="1.55" fill="#ff7f00"/>
<circle cx="409" cy="242.5" r="1.55" fill="#00c000"/>
<circle cx="409.9" cy="244.3" r="1.55" fill="#ff7f00"/>
<circle cx="412.5" cy="241.4" r="1.55" fill="#ff7f00"/>
<circle cx="409.3" cy="247.2" r="1.55" fill="#ff7f00"/>
<circle cx="411.9" cy="247.2" r="1.55" fill="#ff7f00"/>
<circle cx="422.5" cy="238.5" r="1.55" fill="#ff7f00"/>
<circle cx="423.4" cy="238.5" r="1.55" fill="#ff7f00"/>
<circle cx="421.9" cy="241.4" r="1.55" fill="#ff7f00"/>
<circle cx="422.5" cy="244" r="1.55" fill="#00c000"/>
<circle cx="423.8" cy="244" r="1.55" fill="#00c000"/>
<circle cx="482.7" cy="184.9" r="1.55" fill="#00c000"/>
<circle cx="441.7" cy="193.4" r="1.55" fill="#00c000"/>
<circle cx="446.5" cy="196.2" r="1.55" fill="#00c000"/>
<circle cx="473" cy="196.1" r="1.55" fill="#00c000"/>
<circle cx="469.7" cy="202" r="1.55" fill="#00c000"/>
<circle cx="444.3" cy="206.25" r="1.55" fill="#00c000"/>
<circle cx="439.9" cy="210.2" r="1.55" fill="#00c000"/>
<circle cx="450.2" cy="210.2" r="1.55" fill="#ff7f00"/>
<circle cx="461.25" cy="207.4" r="1.55" fill="#00c000"/>
<circle cx="464.5" cy="207.4" r="1.55" fill="#ff7f00"/>
<circle cx="477.8" cy="210.2" r="1.55" fill="#00c000"/>
<circle cx="474.7" cy="213.15" r="1.55" fill="#00c000"/>
<circle cx="473.4" cy="216" r="1.55" fill="#00c000"/>
<circle cx="475.8" cy="215.6" r="1.55" fill="#ff7f00"/>
<circle cx="436.5" cy="220.2" r="1.55" fill="#00c000"/>
<circle cx="450.2" cy="218.6" r="1.55" fill="#00c000"/>
<circle cx="463.5" cy="218.6" r="1.55" fill="#ff7f00"/>
<circle cx="461.25" cy="221.5" r="1.55" fill="#ff7f00"/>
<circle cx="463.6" cy="224.5" r="1.55" fill="#00c000"/>
<circle cx="464.9" cy="224.5" r="1.55" fill="#00c000"/>
<circle cx="473.4" cy="221.5" r="1.55" fill="#ff7f00"/>
<circle cx="474.7" cy="224.5" r="1.55" fill="#ff7f00"/>
<circle cx="456.2" cy="227.3" r="1.55" fill="#00c000"/>
<circle cx="471.4" cy="230" r="1.55" fill="#ff7f00"/>
<circle cx="473" cy="230" r="1.55" fill="#ff7f00"/>
<circle cx="444.3" cy="233.2" r="1.55" fill="#ff7f00"/>
<circle cx="436.5" cy="238.5" r="1.55" fill="#ff7f00"/>
<circle cx="448.4" cy="241.4" r="1.55" fill="#00c000"/>
<circle cx="447.6" cy="243.4" r="1.55" fill="#ff7f00"/>
<circle cx="448.2" cy="245.7" r="1.55" fill="#ff7f00"/>
<circle cx="439.9" cy="244" r="1.55" fill="#ff7f00"/>
<circle cx="473.9" cy="241.4" r="1.55" fill="#00c000"/>
<circle cx="473.9" cy="243" r="1.55" fill="#ff7f00"/>
<circle cx="479.1" cy="241.4" r="1.55" fill="#00c000"/>
<circle cx="479.1" cy="244" r="1.55" fill="#ff7f00"/>
<circle cx="520.8" cy="182.2" r="1.55" fill="#ff7f00"/>
<circle cx="530.6" cy="182.2" r="1.55" fill="#ff7f00"/>
<circle cx="525.6" cy="184.9" r="1.55" fill="#00c000"/>
<circle cx="494.8" cy="187.6" r="1.55" fill="#00c000"/>
<circle cx="509.7" cy="190.6" r="1.55" fill="#00c000"/>
<circle cx="528" cy="190.2" r="1.55" fill="#00c000"/>
<circle cx="528" cy="191.5" r="1.55" fill="#ff7f00"/>
<circle cx="513.9" cy="193.2" r="1.55" fill="#00c000"/>
<circle cx="510.1" cy="194.9" r="1.55" fill="#00c000"/>
<circle cx="513.25" cy="196.1" r="1.55" fill="#00c000"/>
<circle cx="490.9" cy="198.8" r="1.55" fill="#00c000"/>
<circle cx="515.6" cy="198.8" r="1.55" fill="#00c000"/>
<circle cx="526.7" cy="199.3" r="1.55" fill="#ff7f00"/>
<circle cx="526.7" cy="201.7" r="1.55" fill="#ff7f00"/>
<circle cx="528" cy="202" r="1.55" fill="#00c000"/>
<circle cx="502.8" cy="203.1" r="1.55" fill="#00c000"/>
<circle cx="536.8" cy="204.7" r="1.55" fill="#00c000"/>
<circle cx="535.5" cy="207.6" r="1.55" fill="#ff7f00"/>
<circle cx="513.4" cy="207.3" r="1.55" fill="#ff7f00"/>
<circle cx="508.2" cy="210.2" r="1.55" fill="#00c000"/>
<circle cx="540.2" cy="210.2" r="1.55" fill="#00c000"/>
<circle cx="499.3" cy="213.15" r="1.55" fill="#00c000"/>
<circle cx="516" cy="215.6" r="1.55" fill="#ff7f00"/>
<circle cx="531" cy="215.9" r="1.55" fill="#ff7f00"/>
<circle cx="539.7" cy="215.9" r="1.55" fill="#ff7f00"/>
<circle cx="502.8" cy="218.75" r="1.55" fill="#00c000"/>
<circle cx="511.7" cy="218.75" r="1.55" fill="#ff7f00"/>
<circle cx="533.4" cy="219.7" r="1.55" fill="#ff7f00"/>
<circle cx="540.1" cy="221.5" r="1.55" fill="#ff7f00"/>
<circle cx="527.6" cy="224.5" r="1.55" fill="#ff7f00"/>
<circle cx="541.4" cy="224.2" r="1.55" fill="#00c000"/>
<circle cx="541.4" cy="225.8" r="1.55" fill="#ff7f00"/>
<circle cx="508.2" cy="226.4" r="1.55" fill="#ff7f00"/>
<circle cx="516.8" cy="227.3" r="1.55" fill="#00c000"/>
<circle cx="526.4" cy="227.1" r="1.55" fill="#00c000"/>
<circle cx="525.4" cy="228.9" r="1.55" fill="#ff7f00"/>
<circle cx="535.8" cy="227.3" r="1.55" fill="#00c000"/>
<circle cx="538.4" cy="227.3" r="1.55" fill="#ff7f00"/>
<circle cx="503.4" cy="230.1" r="1.55" fill="#00c000"/>
<circle cx="509.7" cy="231" r="1.55" fill="#ff7f00"/>
<circle cx="515.7" cy="230.1" r="1.55" fill="#ff7f00"/>
<circle cx="507.1" cy="232.9" r="1.55" fill="#00c000"/>
<circle cx="508.4" cy="232.9" r="1.55" fill="#00c000"/>
<circle cx="530.6" cy="232.9" r="1.55" fill="#00c000"/>
<circle cx="505.6" cy="235.8" r="1.55" fill="#ff7f00"/>
<circle cx="507.1" cy="237.2" r="1.55" fill="#ff7f00"/>
<circle cx="518.6" cy="235.8" r="1.55" fill="#00c000"/>
<circle cx="523.4" cy="235.8" r="1.55" fill="#00c000"/>
<circle cx="502.7" cy="238.5" r="1.55" fill="#ff7f00"/>
<circle cx="503.5" cy="239.8" r="1.55" fill="#ff7f00"/>
<circle cx="505.6" cy="238.8" r="1.55" fill="#00c000"/>
<circle cx="508.2" cy="239.1" r="1.55" fill="#ff7f00"/>
<circle cx="516.6" cy="238.5" r="1.55" fill="#ff7f00"/>
<circle cx="518.6" cy="238.5" r="1.55" fill="#ff7f00"/>
<circle cx="526.7" cy="238.5" r="1.55" fill="#00c000"/>
<circle cx="521.8" cy="239.8" r="1.55" fill="#ff7f00"/>
<circle cx="490.9" cy="241.4" r="1.55" fill="#ff7f00"/>
<circle cx="499.3" cy="241.4" r="1.55" fill="#00c000"/>
<circle cx="499.3" cy="244" r="1.55" fill="#ff7f00"/>
<circle cx="530.6" cy="241.1" r="1.55" fill="#00c000"/>
<circle cx="533.4" cy="241.4" r="1.55" fill="#00c000"/>
<circle cx="530.6" cy="243" r="1.55" fill="#ff7f00"/>
<circle cx="536.4" cy="239.7" r="1.55" fill="#ff7f00"/>
<circle cx="538.4" cy="238.2" r="1.55" fill="#00c000"/>
<circle cx="540.3" cy="237.8" r="1.55" fill="#ff7f00"/>
<circle cx="538.4" cy="239.1" r="1.55" fill="#ff7f00"/>
<circle cx="540.3" cy="241.4" r="1.55" fill="#00c000"/>
<circle cx="539.2" cy="244" r="1.55" fill="#00c000"/>
<circle cx="521.8" cy="244" r="1.55" fill="#00c000"/>
<circle cx="522.8" cy="244" r="1.55" fill="#ff7f00"/>
<circle cx="522.5" cy="246.4" r="1.55" fill="#ff7f00"/>
<circle cx="598.6" cy="179.3" r="1.55" fill="#00c000"/>
<circle cx="550.9" cy="184.1" r="1.55" fill="#ff7f00"/>
<circle cx="555.1" cy="184.9" r="1.55" fill="#00c000"/>
<circle cx="547.8" cy="190.6" r="1.55" fill="#00c000"/>
<circle cx="553" cy="190.6" r="1.55" fill="#00c000"/>
<circle cx="554.6" cy="193.5" r="1.55" fill="#ff7f00"/>
<circle cx="595.8" cy="193.2" r="1.55" fill="#ff7f00"/>
<circle cx="555.1" cy="199.1" r="1.55" fill="#ff7f00"/>
<circle cx="558" cy="202" r="1.55" fill="#ff7f00"/>
<circle cx="568.4" cy="202" r="1.55" fill="#00c000"/>
<circle cx="565.4" cy="207.6" r="1.55" fill="#00c000"/>
<circle cx="550.4" cy="210.2" r="1.55" fill="#ff7f00"/>
<circle cx="572.6" cy="210.2" r="1.55" fill="#ff7f00"/>
<circle cx="596.3" cy="210.2" r="1.55" fill="#ff7f00"/>
<circle cx="566.1" cy="213.2" r="1.55" fill="#ff7f00"/>
<circle cx="595.8" cy="213.2" r="1.55" fill="#00c000"/>
<circle cx="551.5" cy="216" r="1.55" fill="#ff7f00"/>
<circle cx="560.8" cy="216" r="1.55" fill="#00c000"/>
<circle cx="579.7" cy="216" r="1.55" fill="#00c000"/>
<circle cx="595.8" cy="216" r="1.55" fill="#ff7f00"/>
<circle cx="598.6" cy="217" r="1.55" fill="#ff7f00"/>
<circle cx="617.8" cy="216" r="1.55" fill="#ff7f00"/>
<circle cx="550.4" cy="218.8" r="1.55" fill="#00c000"/>
<circle cx="572.6" cy="218.8" r="1.55" fill="#00c000"/>
<circle cx="558" cy="221.5" r="1.55" fill="#00c000"/>
<circle cx="579.7" cy="224.5" r="1.55" fill="#ff7f00"/>
<circle cx="550.4" cy="227.4" r="1.55" fill="#00c000"/>
<circle cx="554.3" cy="227.4" r="1.55" fill="#00c000"/>
<circle cx="596.3" cy="228.2" r="1.55" fill="#ff7f00"/>
<circle cx="596.3" cy="230.4" r="1.55" fill="#00c000"/>
<circle cx="547.8" cy="229.7" r="1.55" fill="#00c000"/>
<circle cx="551.5" cy="232.7" r="1.55" fill="#00c000"/>
<circle cx="566.1" cy="232.7" r="1.55" fill="#00c000"/>
<circle cx="574.3" cy="232.7" r="1.55" fill="#ff7f00"/>
<circle cx="596.3" cy="232.7" r="1.55" fill="#00c000"/>
<circle cx="617.8" cy="232.7" r="1.55" fill="#00c000"/>
<circle cx="547.8" cy="235.8" r="1.55" fill="#ff7f00"/>
<circle cx="552.4" cy="235.6" r="1.55" fill="#00c000"/>
<circle cx="554.3" cy="234.9" r="1.55" fill="#ff7f00"/>
<circle cx="554.3" cy="236" r="1.55" fill="#00c000"/>
<circle cx="548.1" cy="238.6" r="1.55" fill="#ff7f00"/>
<circle cx="595.8" cy="241.4" r="1.55" fill="#00c000"/>
<circle cx="552.4" cy="244.05" r="1.55" fill="#ff7f00"/>
<circle cx="560.8" cy="244.05" r="1.55" fill="#ff7f00"/>
<circle cx="567.75" cy="246.9" r="1.55" fill="#ff7f00"/>
<circle cx="37.7" cy="364.4" r="1.55" fill="#00c000"/>
<circle cx="185" cy="334.2" r="1.55" fill="#00c000"/>
<circle cx="189.7" cy="342.2" r="1.55" fill="#00c000"/>
<circle cx="166" cy="357.1" r="1.55" fill="#ff7f00"/>
<circle cx="166" cy="361" r="1.55" fill="#00c000"/>
<circle cx="185" cy="357.1" r="1.55" fill="#ff7f00"/>
<circle cx="36.9" cy="393.9" r="1.55" fill="#ff7f00"/>
<circle cx="37.6" cy="431.8" r="1.55" fill="#ff7f00"/>
<circle cx="45" cy="436.1" r="1.55" fill="#00c000"/>
<circle cx="37.3" cy="463.9" r="1.55" fill="#ff7f00"/>
<circle cx="37.3" cy="467.4" r="1.55" fill="#00c000"/>
<circle cx="78.1" cy="463.4" r="1.55" fill="#00c000"/>
<circle cx="37.3" cy="507.6" r="1.55" fill="#00c000"/>
<circle cx="44.9" cy="511.8" r="1.55" fill="#ff7f00"/>
<circle cx="80.7" cy="509.9" r="1.55" fill="#00c000"/>
<circle cx="91.6" cy="518.1" r="1.55" fill="#00c000"/>
<circle cx="36.9" cy="518.1" r="1.55" fill="#00c000"/>
<circle cx="69.6" cy="520.3" r="1.55" fill="#ff7f00"/>
<circle cx="60.4" cy="530.7" r="1.55" fill="#ff7f00"/>
<circle cx="78.1" cy="533" r="1.55" fill="#ff7f00"/>
<circle cx="69.6" cy="535.1" r="1.55" fill="#00c000"/>
<circle cx="69.1" cy="539.4" r="1.55" fill="#ff7f00"/>
<circle cx="80.7" cy="541.1" r="1.55" fill="#ff7f00"/>
<circle cx="60.4" cy="538.9" r="1.55" fill="#00c000"/>
<circle cx="69.1" cy="543.4" r="1.55" fill="#00c000"/>
<circle cx="91.6" cy="543.4" r="1.55" fill="#ff7f00"/>
<circle cx="89" cy="545.5" r="1.55" fill="#ff7f00"/>
<circle cx="38.3" cy="520.2" r="1.55" fill="#ff7f00"/>
<circle cx="37.6" cy="522.4" r="1.55" fill="#ff7f00"/>
<circle cx="45.5" cy="522.4" r="1.55" fill="#00c000"/>
<circle cx="48" cy="522.4" r="1.55" fill="#00c000"/>
<circle cx="38" cy="526.6" r="1.55" fill="#00c000"/>
<circle cx="41.6" cy="526.6" r="1.55" fill="#00c000"/>
<circle cx="47.9" cy="526.6" r="1.55" fill="#ff7f00"/>
<circle cx="51.3" cy="525.5" r="1.55" fill="#00c000"/>
<circle cx="45.5" cy="528.8" r="1.55" fill="#ff7f00"/>
<circle cx="60.3" cy="530.9" r="1.55" fill="#ff7f00"/>
<circle cx="38.3" cy="530.9" r="1.55" fill="#00c000"/>
<circle cx="37.6" cy="532.9" r="1.55" fill="#ff7f00"/>
<circle cx="46.6" cy="535" r="1.55" fill="#00c000"/>
<circle cx="52.4" cy="534.4" r="1.55" fill="#00c000"/>
<circle cx="37.4" cy="534.7" r="1.55" fill="#00c000"/>
<circle cx="36.1" cy="537.2" r="1.55" fill="#00c000"/>
<circle cx="38.3" cy="536.6" r="1.55" fill="#ff7f00"/>
<circle cx="45.5" cy="537.2" r="1.55" fill="#ff7f00"/>
<circle cx="46.9" cy="538.3" r="1.55" fill="#ff7f00"/>
<circle cx="41.6" cy="539.1" r="1.55" fill="#00c000"/>
<circle cx="45.5" cy="539.4" r="1.55" fill="#00c000"/>
<circle cx="47.2" cy="541.1" r="1.55" fill="#00c000"/>
<circle cx="51.1" cy="539.1" r="1.55" fill="#ff7f00"/>
<circle cx="52.4" cy="540.2" r="1.55" fill="#ff7f00"/>
<circle cx="60.2" cy="538.8" r="1.55" fill="#00c000"/>
<circle cx="37.2" cy="540.8" r="1.55" fill="#00c000"/>
<circle cx="37" cy="543" r="1.55" fill="#ff7f00"/>
<circle cx="39" cy="542" r="1.55" fill="#ff7f00"/>
<circle cx="40" cy="544.5" r="1.55" fill="#ff7f00"/>
<circle cx="42" cy="543" r="1.55" fill="#ff7f00"/>
<circle cx="41" cy="541" r="1.55" fill="#ff7f00"/>
<circle cx="38" cy="545.5" r="1.55" fill="#ff7f00"/>
<circle cx="44" cy="544" r="1.55" fill="#ff7f00"/>
<circle cx="46" cy="545" r="1.55" fill="#ff7f00"/>
<circle cx="48" cy="544.5" r="1.55" fill="#ff7f00"/>
<circle cx="43" cy="546" r="1.55" fill="#ff7f00"/>
<circle cx="36.5" cy="546" r="1.55" fill="#ff7f00"/>
<circle cx="39.5" cy="540" r="1.55" fill="#ff7f00"/>
<circle cx="50" cy="545" r="1.55" fill="#ff7f00"/>
<circle cx="58.3" cy="543.6" r="1.55" fill="#ff7f00"/>
<circle cx="167.5" cy="423.3" r="1.55" fill="#00c000"/>
<circle cx="171.5" cy="436.1" r="1.55" fill="#ff7f00"/>
<circle cx="175.4" cy="461.25" r="1.55" fill="#00c000"/>
<circle cx="185.1" cy="465.6" r="1.55" fill="#ff7f00"/>
<circle cx="167.5" cy="472.9" r="1.55" fill="#ff7f00"/>
<circle cx="143.2" cy="482.4" r="1.55" fill="#00c000"/>
<circle cx="143.2" cy="522.5" r="1.55" fill="#ff7f00"/>
<circle cx="115.4" cy="542.9" r="1.55" fill="#00c000"/>
<circle cx="115.4" cy="545.7" r="1.55" fill="#ff7f00"/>
<circle cx="175.7" cy="484.4" r="1.55" fill="#00c000"/>
<circle cx="171.5" cy="488.5" r="1.55" fill="#00c000"/>
<circle cx="185.1" cy="490.8" r="1.55" fill="#00c000"/>
<circle cx="175.7" cy="497.2" r="1.55" fill="#ff7f00"/>
<circle cx="217.4" cy="511.8" r="1.55" fill="#00c000"/>
<circle cx="178.3" cy="518.2" r="1.55" fill="#00c000"/>
<circle cx="175.4" cy="522.5" r="1.55" fill="#ff7f00"/>
<circle cx="214.7" cy="522.5" r="1.55" fill="#00c000"/>
<circle cx="178.3" cy="526.5" r="1.55" fill="#ff7f00"/>
<circle cx="217.4" cy="528.75" r="1.55" fill="#ff7f00"/>
<circle cx="189.7" cy="535" r="1.55" fill="#ff7f00"/>
<circle cx="201.4" cy="532.6" r="1.55" fill="#00c000"/>
<circle cx="201.4" cy="537.5" r="1.55" fill="#ff7f00"/>
<circle cx="208.9" cy="537.1" r="1.55" fill="#00c000"/>
<circle cx="208.9" cy="539.3" r="1.55" fill="#ff7f00"/>
<circle cx="214.7" cy="543.3" r="1.55" fill="#ff7f00"/>
<circle cx="259.8" cy="425.3" r="1.55" fill="#00c000"/>
<circle cx="259.8" cy="522.1" r="1.55" fill="#ff7f00"/>
<circle cx="435" cy="376.1" r="1.55" fill="#00c000"/>
<circle cx="425.4" cy="381.7" r="1.55" fill="#00c000"/>
<circle cx="408.3" cy="393.2" r="1.55" fill="#00c000"/>
<circle cx="425.4" cy="396.8" r="1.55" fill="#ff7f00"/>
<circle cx="433.75" cy="411.1" r="1.55" fill="#00c000"/>
<circle cx="479.3" cy="391.1" r="1.55" fill="#ff7f00"/>
<circle cx="485.6" cy="390" r="1.55" fill="#ff7f00"/>
<circle cx="486.25" cy="406.25" r="1.55" fill="#00c000"/>
<circle cx="516.1" cy="392.8" r="1.55" fill="#00c000"/>
<circle cx="525.4" cy="393.1" r="1.55" fill="#ff7f00"/>
<circle cx="525.4" cy="394.4" r="1.55" fill="#00c000"/>
<circle cx="571.7" cy="337.5" r="1.55" fill="#00c000"/>
<circle cx="588.3" cy="358.5" r="1.55" fill="#ff7f00"/>
<circle cx="571.7" cy="364.2" r="1.55" fill="#ff7f00"/>
<circle cx="569.6" cy="372.8" r="1.55" fill="#00c000"/>
<circle cx="573.3" cy="379.7" r="1.55" fill="#ff7f00"/>
<circle cx="580" cy="380.6" r="1.55" fill="#ff7f00"/>
<circle cx="588.3" cy="385.3" r="1.55" fill="#00c000"/>
<circle cx="589.4" cy="387.6" r="1.55" fill="#00c000"/>
<circle cx="583.9" cy="387.9" r="1.55" fill="#ff7f00"/>
<circle cx="584.9" cy="391.5" r="1.55" fill="#ff7f00"/>
<circle cx="569.6" cy="393.5" r="1.55" fill="#ff7f00"/>
<circle cx="572.1" cy="392.5" r="1.55" fill="#00c000"/>
<circle cx="535.6" cy="394.9" r="1.55" fill="#ff7f00"/>
<circle cx="588.6" cy="396.7" r="1.55" fill="#ff7f00"/>
<circle cx="603.2" cy="347.1" r="1.55" fill="#00c000"/>
<circle cx="606.4" cy="349.9" r="1.55" fill="#00c000"/>
<circle cx="601.7" cy="353.5" r="1.55" fill="#00c000"/>
<circle cx="608.75" cy="354.4" r="1.55" fill="#ff7f00"/>
<circle cx="590.4" cy="355.3" r="1.55" fill="#ff7f00"/>
<circle cx="616" cy="364.2" r="1.55" fill="#ff7f00"/>
<circle cx="614" cy="365.3" r="1.55" fill="#ff7f00"/>
<circle cx="613.3" cy="366.9" r="1.55" fill="#ff7f00"/>
<circle cx="615.2" cy="368.1" r="1.55" fill="#ff7f00"/>
<circle cx="616.5" cy="369" r="1.55" fill="#00c000"/>
<circle cx="601.7" cy="373.5" r="1.55" fill="#ff7f00"/>
<circle cx="607.4" cy="372.8" r="1.55" fill="#ff7f00"/>
<circle cx="609.8" cy="372.5" r="1.55" fill="#ff7f00"/>
<circle cx="615.7" cy="374.4" r="1.55" fill="#00c000"/>
<circle cx="610" cy="377.7" r="1.55" fill="#00c000"/>
<circle cx="615.7" cy="382.7" r="1.55" fill="#00c000"/>
<circle cx="608.4" cy="383.2" r="1.55" fill="#ff7f00"/>
<circle cx="590.2" cy="385.3" r="1.55" fill="#00c000"/>
<circle cx="589.7" cy="388.1" r="1.55" fill="#00c000"/>
<circle cx="595.2" cy="385.3" r="1.55" fill="#ff7f00"/>
<circle cx="601.5" cy="385" r="1.55" fill="#ff7f00"/>
<circle cx="611.9" cy="385.8" r="1.55" fill="#00c000"/>
<circle cx="611.6" cy="387.4" r="1.55" fill="#ff7f00"/>
<circle cx="616.25" cy="385.8" r="1.55" fill="#ff7f00"/>
<circle cx="613.6" cy="388.75" r="1.55" fill="#00c000"/>
<circle cx="617.3" cy="388.75" r="1.55" fill="#00c000"/>
<circle cx="616.25" cy="391" r="1.55" fill="#ff7f00"/>
<circle cx="614.2" cy="391.6" r="1.55" fill="#ff7f00"/>
<circle cx="608.4" cy="392.1" r="1.55" fill="#ff7f00"/>
<circle cx="610.5" cy="393.3" r="1.55" fill="#ff7f00"/>
<circle cx="611.9" cy="394.7" r="1.55" fill="#00c000"/>
<circle cx="616.25" cy="393.6" r="1.55" fill="#ff7f00"/>
<circle cx="616.8" cy="395.2" r="1.55" fill="#ff7f00"/>
<circle cx="598.5" cy="393.6" r="1.55" fill="#ff7f00"/>
<circle cx="595.2" cy="395.7" r="1.55" fill="#00c000"/>
<circle cx="601.5" cy="394.7" r="1.55" fill="#00c000"/>
<circle cx="585.5" cy="391.6" r="1.55" fill="#ff7f00"/>
<circle cx="435" cy="424.3" r="1.55" fill="#ff7f00"/>
<circle cx="448.9" cy="425.1" r="1.55" fill="#00c000"/>
<circle cx="433.75" cy="439.3" r="1.55" fill="#ff7f00"/>
<circle cx="379.4" cy="458.1" r="1.55" fill="#00c000"/>
<circle cx="379.4" cy="467.6" r="1.55" fill="#00c000"/>
<circle cx="450.1" cy="462.9" r="1.55" fill="#00c000"/>
<circle cx="427.8" cy="476.8" r="1.55" fill="#ff7f00"/>
<circle cx="379.3" cy="491.3" r="1.55" fill="#ff7f00"/>
<circle cx="434.3" cy="491" r="1.55" fill="#00c000"/>
<circle cx="427.8" cy="500.4" r="1.55" fill="#00c000"/>
<circle cx="379.3" cy="502.6" r="1.55" fill="#00c000"/>
<circle cx="379.3" cy="505.6" r="1.55" fill="#ff7f00"/>
<circle cx="434.3" cy="509.9" r="1.55" fill="#ff7f00"/>
<circle cx="433.6" cy="514.5" r="1.55" fill="#ff7f00"/>
<circle cx="408.5" cy="519.4" r="1.55" fill="#ff7f00"/>
<circle cx="417.6" cy="519.4" r="1.55" fill="#00c000"/>
<circle cx="417.6" cy="524.1" r="1.55" fill="#ff7f00"/>
<circle cx="379.3" cy="522.6" r="1.55" fill="#00c000"/>
<circle cx="379.3" cy="523.9" r="1.55" fill="#00c000"/>
<circle cx="395.5" cy="524.1" r="1.55" fill="#00c000"/>
<circle cx="398.5" cy="528.8" r="1.55" fill="#ff7f00"/>
<circle cx="379.3" cy="528.7" r="1.55" fill="#00c000"/>
<circle cx="395.5" cy="531.3" r="1.55" fill="#ff7f00"/>
<circle cx="384.8" cy="533.5" r="1.55" fill="#ff7f00"/>
<circle cx="379.3" cy="533.6" r="1.55" fill="#ff7f00"/>
<circle cx="379.3" cy="535.6" r="1.55" fill="#ff7f00"/>
<circle cx="433.6" cy="532.3" r="1.55" fill="#00c000"/>
<circle cx="434.7" cy="533.6" r="1.55" fill="#00c000"/>
<circle cx="450.2" cy="522.8" r="1.55" fill="#ff7f00"/>
<circle cx="448.7" cy="533.5" r="1.55" fill="#ff7f00"/>
<circle cx="452.9" cy="533.5" r="1.55" fill="#ff7f00"/>
<circle cx="434.7" cy="538.5" r="1.55" fill="#ff7f00"/>
<circle cx="384.8" cy="538.5" r="1.55" fill="#00c000"/>
<circle cx="386.7" cy="538.5" r="1.55" fill="#ff7f00"/>
<circle cx="390.4" cy="538.5" r="1.55" fill="#ff7f00"/>
<circle cx="379.3" cy="538.2" r="1.55" fill="#ff7f00"/>
<circle cx="382.2" cy="542.4" r="1.55" fill="#ff7f00"/>
<circle cx="384.8" cy="543" r="1.55" fill="#00c000"/>
<circle cx="386.7" cy="543" r="1.55" fill="#00c000"/>
<circle cx="388.7" cy="543" r="1.55" fill="#ff7f00"/>
<circle cx="390.6" cy="543" r="1.55" fill="#00c000"/>
<circle cx="398.5" cy="543" r="1.55" fill="#00c000"/>
<circle cx="452.5" cy="543" r="1.55" fill="#00c000"/>
<circle cx="379.3" cy="540.1" r="1.55" fill="#ff7f00"/>
<circle cx="379.3" cy="542.75" r="1.55" fill="#ff7f00"/>
<circle cx="384.8" cy="547.3" r="1.55" fill="#ff7f00"/>
<circle cx="389" cy="547.3" r="1.55" fill="#00c000"/>
<circle cx="379.3" cy="546.7" r="1.55" fill="#ff7f00"/>
<circle cx="427.8" cy="547.3" r="1.55" fill="#ff7f00"/>
<circle cx="379.3" cy="544.5" r="1.55" fill="#ff7f00"/>
<circle cx="479.2" cy="425.1" r="1.55" fill="#00c000"/>
<circle cx="516.1" cy="425.1" r="1.55" fill="#ff7f00"/>
<circle cx="485.6" cy="472.2" r="1.55" fill="#00c000"/>
<circle cx="519.4" cy="474.6" r="1.55" fill="#00c000"/>
<circle cx="524.6" cy="476.8" r="1.55" fill="#ff7f00"/>
<circle cx="455.9" cy="486.5" r="1.55" fill="#ff7f00"/>
<circle cx="506" cy="486.5" r="1.55" fill="#00c000"/>
<circle cx="486.2" cy="495.8" r="1.55" fill="#ff7f00"/>
<circle cx="498.5" cy="495.8" r="1.55" fill="#00c000"/>
<circle cx="528.8" cy="491.2" r="1.55" fill="#ff7f00"/>
<circle cx="455.9" cy="500.4" r="1.55" fill="#00c000"/>
<circle cx="460.2" cy="500.4" r="1.55" fill="#ff7f00"/>
<circle cx="498.5" cy="505.2" r="1.55" fill="#ff7f00"/>
<circle cx="524.5" cy="505.2" r="1.55" fill="#00c000"/>
<circle cx="455.2" cy="514.5" r="1.55" fill="#00c000"/>
<circle cx="503.4" cy="516" r="1.55" fill="#ff7f00"/>
<circle cx="503.4" cy="519.4" r="1.55" fill="#00c000"/>
<circle cx="482.3" cy="519.4" r="1.55" fill="#ff7f00"/>
<circle cx="508.6" cy="526.5" r="1.55" fill="#ff7f00"/>
<circle cx="486.5" cy="528.8" r="1.55" fill="#ff7f00"/>
<circle cx="486.5" cy="533.5" r="1.55" fill="#00c000"/>
<circle cx="455.2" cy="533.5" r="1.55" fill="#ff7f00"/>
<circle cx="519.4" cy="533.5" r="1.55" fill="#ff7f00"/>
<circle cx="527.9" cy="533.5" r="1.55" fill="#ff7f00"/>
<circle cx="527.9" cy="536.9" r="1.55" fill="#00c000"/>
<circle cx="526.2" cy="538.2" r="1.55" fill="#00c000"/>
<circle cx="526.2" cy="540.5" r="1.55" fill="#ff7f00"/>
<circle cx="452.6" cy="543" r="1.55" fill="#00c000"/>
<circle cx="466.4" cy="543" r="1.55" fill="#ff7f00"/>
<circle cx="466.4" cy="547.3" r="1.55" fill="#00c000"/>
<circle cx="502.8" cy="541.5" r="1.55" fill="#ff7f00"/>
<circle cx="502.8" cy="543" r="1.55" fill="#00c000"/>
<circle cx="506.3" cy="543" r="1.55" fill="#ff7f00"/>
<circle cx="508.6" cy="540.5" r="1.55" fill="#00c000"/>
<circle cx="515.4" cy="545.75" r="1.55" fill="#ff7f00"/>
<circle cx="515.4" cy="547.3" r="1.55" fill="#00c000"/>
<circle cx="557.9" cy="411" r="1.55" fill="#00c000"/>
<circle cx="584.4" cy="420.6" r="1.55" fill="#00c000"/>
<circle cx="583.3" cy="420.6" r="1.55" fill="#ff7f00"/>
<circle cx="580" cy="458.1" r="1.55" fill="#00c000"/>
<circle cx="584.7" cy="458.1" r="1.55" fill="#00c000"/>
<circle cx="570.8" cy="462.9" r="1.55" fill="#00c000"/>
<circle cx="574.6" cy="462.9" r="1.55" fill="#00c000"/>
<circle cx="539.4" cy="472.2" r="1.55" fill="#00c000"/>
<circle cx="589.6" cy="472.2" r="1.55" fill="#ff7f00"/>
<circle cx="570.8" cy="481.5" r="1.55" fill="#ff7f00"/>
<circle cx="588.75" cy="481.5" r="1.55" fill="#00c000"/>
<circle cx="572.5" cy="486.4" r="1.55" fill="#00c000"/>
<circle cx="575.1" cy="486.4" r="1.55" fill="#ff7f00"/>
<circle cx="529.3" cy="491.1" r="1.55" fill="#ff7f00"/>
<circle cx="583.3" cy="491.1" r="1.55" fill="#00c000"/>
<circle cx="593.7" cy="491.1" r="1.55" fill="#ff7f00"/>
<circle cx="571.6" cy="495.2" r="1.55" fill="#ff7f00"/>
<circle cx="572.5" cy="495.8" r="1.55" fill="#ff7f00"/>
<circle cx="535.8" cy="500.4" r="1.55" fill="#00c000"/>
<circle cx="575.1" cy="500.4" r="1.55" fill="#00c000"/>
<circle cx="593.7" cy="500.4" r="1.55" fill="#00c000"/>
<circle cx="572.5" cy="505.2" r="1.55" fill="#ff7f00"/>
<circle cx="539.4" cy="509.9" r="1.55" fill="#ff7f00"/>
<circle cx="554.1" cy="512.3" r="1.55" fill="#ff7f00"/>
<circle cx="542.3" cy="514.4" r="1.55" fill="#00c000"/>
<circle cx="558.2" cy="517.3" r="1.55" fill="#ff7f00"/>
<circle cx="554.1" cy="519.4" r="1.55" fill="#00c000"/>
<circle cx="559.5" cy="519.4" r="1.55" fill="#00c000"/>
<circle cx="562.5" cy="519.4" r="1.55" fill="#ff7f00"/>
<circle cx="574.6" cy="519.4" r="1.55" fill="#ff7f00"/>
<circle cx="554.1" cy="524" r="1.55" fill="#00c000"/>
<circle cx="572.2" cy="524" r="1.55" fill="#00c000"/>
<circle cx="583.8" cy="524" r="1.55" fill="#ff7f00"/>
<circle cx="586.2" cy="526.4" r="1.55" fill="#00c000"/>
<circle cx="586.2" cy="528.7" r="1.55" fill="#ff7f00"/>
<circle cx="593.7" cy="524" r="1.55" fill="#ff7f00"/>
<circle cx="562.3" cy="528.7" r="1.55" fill="#00c000"/>
<circle cx="542.3" cy="531.2" r="1.55" fill="#ff7f00"/>
<circle cx="554.1" cy="532" r="1.55" fill="#ff7f00"/>
<circle cx="551" cy="533.4" r="1.55" fill="#ff7f00"/>
<circle cx="583.8" cy="533.4" r="1.55" fill="#00c000"/>
<circle cx="559.5" cy="536.2" r="1.55" fill="#ff7f00"/>
<circle cx="534.1" cy="542.9" r="1.55" fill="#00c000"/>
<circle cx="541.3" cy="542.9" r="1.55" fill="#ff7f00"/>
<circle cx="551.3" cy="542.9" r="1.55" fill="#00c000"/>
<circle cx="534.1" cy="547.2" r="1.55" fill="#ff7f00"/>
<circle cx="587.2" cy="547.2" r="1.55" fill="#ff7f00"/>
<circle cx="593.7" cy="531.6" r="1.55" fill="#ff7f00"/>
<circle cx="594" cy="538.1" r="1.55" fill="#00c000"/>
<circle cx="594.6" cy="527" r="1.55" fill="#00c000"/>
<circle cx="607.9" cy="406.1" r="1.55" fill="#ff7f00"/>
<circle cx="612.8" cy="406.1" r="1.55" fill="#ff7f00"/>
<circle cx="616.7" cy="406.1" r="1.55" fill="#ff7f00"/>
<circle cx="608.6" cy="415.6" r="1.55" fill="#00c000"/>
<circle cx="609.6" cy="415.6" r="1.55" fill="#ff7f00"/>
<circle cx="615.8" cy="420.8" r="1.55" fill="#ff7f00"/>
<circle cx="607.9" cy="425" r="1.55" fill="#00c000"/>
<circle cx="611.1" cy="425" r="1.55" fill="#00c000"/>
<circle cx="614.2" cy="425" r="1.55" fill="#00c000"/>
<circle cx="616.7" cy="425" r="1.55" fill="#00c000"/>
<circle cx="614.2" cy="434.6" r="1.55" fill="#ff7f00"/>
<circle cx="615.8" cy="434.6" r="1.55" fill="#00c000"/>
<circle cx="614.9" cy="439.2" r="1.55" fill="#ff7f00"/>
<circle cx="615.8" cy="442.2" r="1.55" fill="#ff7f00"/>
<circle cx="607.2" cy="443.9" r="1.55" fill="#00c000"/>
<circle cx="612.8" cy="443.9" r="1.55" fill="#ff7f00"/>
<circle cx="616.7" cy="443.9" r="1.55" fill="#00c000"/>
<circle cx="609.3" cy="448.5" r="1.55" fill="#00c000"/>
<circle cx="611.7" cy="448.5" r="1.55" fill="#00c000"/>
<circle cx="608.3" cy="453.3" r="1.55" fill="#00c000"/>
<circle cx="609.3" cy="453.3" r="1.55" fill="#00c000"/>
<circle cx="614.4" cy="453.3" r="1.55" fill="#ff7f00"/>
<circle cx="617.2" cy="453.3" r="1.55" fill="#00c000"/>
<circle cx="615.3" cy="455" r="1.55" fill="#ff7f00"/>
<circle cx="616.25" cy="456.8" r="1.55" fill="#ff7f00"/>
<circle cx="607.2" cy="458.2" r="1.55" fill="#ff7f00"/>
<circle cx="608.9" cy="458.2" r="1.55" fill="#ff7f00"/>
<circle cx="614.2" cy="458.2" r="1.55" fill="#00c000"/>
<circle cx="615.8" cy="460" r="1.55" fill="#00c000"/>
<circle cx="616.25" cy="462.4" r="1.55" fill="#00c000"/>
<circle cx="614.2" cy="463.1" r="1.55" fill="#ff7f00"/>
<circle cx="613.5" cy="465.1" r="1.55" fill="#ff7f00"/>
<circle cx="611.1" cy="467.5" r="1.55" fill="#00c000"/>
<circle cx="612.8" cy="467.5" r="1.55" fill="#ff7f00"/>
<circle cx="617" cy="468.3" r="1.55" fill="#ff7f00"/>
<circle cx="589.9" cy="472.1" r="1.55" fill="#ff7f00"/>
<circle cx="606.5" cy="472.1" r="1.55" fill="#ff7f00"/>
<circle cx="613.5" cy="472.1" r="1.55" fill="#ff7f00"/>
<circle cx="614.9" cy="472.1" r="1.55" fill="#ff7f00"/>
<circle cx="615.6" cy="472.1" r="1.55" fill="#00c000"/>
<circle cx="585.7" cy="458.2" r="1.55" fill="#00c000"/>
<circle cx="588.9" cy="396.7" r="1.55" fill="#ff7f00"/>
<circle cx="611.4" cy="395.5" r="1.55" fill="#00c000"/>
<circle cx="616.7" cy="395.8" r="1.55" fill="#ff7f00"/>
<circle cx="606.8" cy="472.4" r="1.55" fill="#ff7f00"/>
<circle cx="606.7" cy="476.9" r="1.55" fill="#00c000"/>
<circle cx="617.1" cy="479.4" r="1.55" fill="#00c000"/>
<circle cx="614.3" cy="481.7" r="1.55" fill="#00c000"/>
<circle cx="615" cy="481.7" r="1.55" fill="#ff7f00"/>
<circle cx="610" cy="486.5" r="1.55" fill="#00c000"/>
<circle cx="612.6" cy="486.5" r="1.55" fill="#ff7f00"/>
<circle cx="614.7" cy="486.5" r="1.55" fill="#ff7f00"/>
<circle cx="606.3" cy="488.75" r="1.55" fill="#ff7f00"/>
<circle cx="593.8" cy="491" r="1.55" fill="#ff7f00"/>
<circle cx="608.75" cy="491" r="1.55" fill="#00c000"/>
<circle cx="613.6" cy="491" r="1.55" fill="#00c000"/>
<circle cx="617.1" cy="491" r="1.55" fill="#00c000"/>
<circle cx="614.3" cy="494" r="1.55" fill="#ff7f00"/>
<circle cx="599.4" cy="495.8" r="1.55" fill="#00c000"/>
<circle cx="605.1" cy="495.8" r="1.55" fill="#ff7f00"/>
<circle cx="611.2" cy="495.3" r="1.55" fill="#ff7f00"/>
<circle cx="612.9" cy="496" r="1.55" fill="#ff7f00"/>
<circle cx="615.8" cy="497.1" r="1.55" fill="#ff7f00"/>
<circle cx="615" cy="498.5" r="1.55" fill="#00c000"/>
<circle cx="594" cy="500.4" r="1.55" fill="#00c000"/>
<circle cx="608.75" cy="500.4" r="1.55" fill="#ff7f00"/>
<circle cx="610.1" cy="500.4" r="1.55" fill="#00c000"/>
<circle cx="614" cy="500.4" r="1.55" fill="#00c000"/>
<circle cx="616.4" cy="500.4" r="1.55" fill="#00c000"/>
<circle cx="607.9" cy="501.9" r="1.55" fill="#ff7f00"/>
<circle cx="614.7" cy="505.1" r="1.55" fill="#ff7f00"/>
<circle cx="616.7" cy="505.1" r="1.55" fill="#00c000"/>
<circle cx="616" cy="506.1" r="1.55" fill="#ff7f00"/>
<circle cx="604.6" cy="507.5" r="1.55" fill="#ff7f00"/>
<circle cx="588.9" cy="481.5" r="1.55" fill="#00c000"/>
<circle cx="604.5" cy="507.3" r="1.55" fill="#ff7f00"/>
<circle cx="599.4" cy="510.1" r="1.55" fill="#ff7f00"/>
<circle cx="607.6" cy="510.1" r="1.55" fill="#00c000"/>
<circle cx="608.75" cy="510.1" r="1.55" fill="#00c000"/>
<circle cx="612.7" cy="510.1" r="1.55" fill="#00c000"/>
<circle cx="615" cy="510.1" r="1.55" fill="#ff7f00"/>
<circle cx="617" cy="510.1" r="1.55" fill="#ff7f00"/>
<circle cx="606.4" cy="512.4" r="1.55" fill="#ff7f00"/>
<circle cx="610.3" cy="512.8" r="1.55" fill="#ff7f00"/>
<circle cx="614.2" cy="512.8" r="1.55" fill="#ff7f00"/>
<circle cx="598.6" cy="514.6" r="1.55" fill="#00c000"/>
<circle cx="604.5" cy="514.6" r="1.55" fill="#ff7f00"/>
<circle cx="606.8" cy="514.6" r="1.55" fill="#00c000"/>
<circle cx="611.1" cy="514.8" r="1.55" fill="#ff7f00"/>
<circle cx="615.8" cy="514.8" r="1.55" fill="#ff7f00"/>
<circle cx="611.1" cy="517.1" r="1.55" fill="#ff7f00"/>
<circle cx="597.4" cy="519.5" r="1.55" fill="#ff7f00"/>
<circle cx="604.1" cy="519.5" r="1.55" fill="#00c000"/>
<circle cx="605.6" cy="519.5" r="1.55" fill="#00c000"/>
<circle cx="609.9" cy="519.5" r="1.55" fill="#ff7f00"/>
<circle cx="614.2" cy="519.5" r="1.55" fill="#00c000"/>
<circle cx="616.6" cy="519.5" r="1.55" fill="#00c000"/>
<circle cx="609.1" cy="521" r="1.55" fill="#ff7f00"/>
<circle cx="593.5" cy="523.9" r="1.55" fill="#ff7f00"/>
<circle cx="595.6" cy="523.9" r="1.55" fill="#00c000"/>
<circle cx="602.9" cy="523.9" r="1.55" fill="#ff7f00"/>
<circle cx="604.8" cy="523.9" r="1.55" fill="#00c000"/>
<circle cx="606.8" cy="523.9" r="1.55" fill="#ff7f00"/>
<circle cx="611.1" cy="523.9" r="1.55" fill="#00c000"/>
<circle cx="613.4" cy="523.9" r="1.55" fill="#00c000"/>
<circle cx="617" cy="522.6" r="1.55" fill="#00c000"/>
<circle cx="617" cy="524.5" r="1.55" fill="#ff7f00"/>
<circle cx="595.5" cy="527.4" r="1.55" fill="#00c000"/>
<circle cx="605.6" cy="526.5" r="1.55" fill="#ff7f00"/>
<circle cx="606.8" cy="525.7" r="1.55" fill="#ff7f00"/>
<circle cx="611.9" cy="527.3" r="1.55" fill="#ff7f00"/>
<circle cx="616.6" cy="527.3" r="1.55" fill="#ff7f00"/>
<circle cx="605.2" cy="528.4" r="1.55" fill="#ff7f00"/>
<circle cx="608" cy="528.8" r="1.55" fill="#00c000"/>
<circle cx="610.7" cy="528.8" r="1.55" fill="#00c000"/>
<circle cx="614.6" cy="530" r="1.55" fill="#ff7f00"/>
<circle cx="595.1" cy="531.2" r="1.55" fill="#ff7f00"/>
<circle cx="594.3" cy="532.3" r="1.55" fill="#ff7f00"/>
<circle cx="608" cy="532" r="1.55" fill="#ff7f00"/>
<circle cx="612.7" cy="532" r="1.55" fill="#ff7f00"/>
<circle cx="616.6" cy="532.7" r="1.55" fill="#ff7f00"/>
<circle cx="597.8" cy="533.5" r="1.55" fill="#00c000"/>
<circle cx="606.8" cy="533.5" r="1.55" fill="#00c000"/>
<circle cx="615" cy="533.9" r="1.55" fill="#00c000"/>
<circle cx="595.1" cy="534.7" r="1.55" fill="#ff7f00"/>
<circle cx="606.8" cy="535.9" r="1.55" fill="#ff7f00"/>
<circle cx="609.5" cy="535.9" r="1.55" fill="#ff7f00"/>
<circle cx="612.7" cy="534.7" r="1.55" fill="#ff7f00"/>
<circle cx="617" cy="535.1" r="1.55" fill="#ff7f00"/>
<circle cx="600.9" cy="535.9" r="1.55" fill="#ff7f00"/>
<circle cx="594.7" cy="538.2" r="1.55" fill="#00c000"/>
<circle cx="604.8" cy="538.2" r="1.55" fill="#00c000"/>
<circle cx="607.6" cy="537.8" r="1.55" fill="#ff7f00"/>
<circle cx="611.5" cy="537.8" r="1.55" fill="#ff7f00"/>
<circle cx="615" cy="538.6" r="1.55" fill="#00c000"/>
<circle cx="617" cy="537" r="1.55" fill="#ff7f00"/>
<circle cx="608.4" cy="540.5" r="1.55" fill="#00c000"/>
<circle cx="609.9" cy="540.5" r="1.55" fill="#00c000"/>
<circle cx="600.5" cy="540.9" r="1.55" fill="#ff7f00"/>
<circle cx="600.9" cy="542.1" r="1.55" fill="#00c000"/>
<circle cx="602.9" cy="541.6" r="1.55" fill="#ff7f00"/>
<circle cx="615.8" cy="541.3" r="1.55" fill="#ff7f00"/>
<circle cx="599" cy="542.9" r="1.55" fill="#ff7f00"/>
<circle cx="602.5" cy="543.3" r="1.55" fill="#00c000"/>
<circle cx="606.4" cy="542.9" r="1.55" fill="#ff7f00"/>
<circle cx="608" cy="541.7" r="1.55" fill="#00c000"/>
<circle cx="611.5" cy="542.9" r="1.55" fill="#00c000"/>
<circle cx="615" cy="542.9" r="1.55" fill="#ff7f00"/>
<circle cx="617" cy="542.9" r="1.55" fill="#ff7f00"/>
<circle cx="606.8" cy="545.6" r="1.55" fill="#ff7f00"/>
<circle cx="600.5" cy="547.6" r="1.55" fill="#ff7f00"/>
<circle cx="605.2" cy="547.6" r="1.55" fill="#00c000"/>
<circle cx="607.6" cy="547.6" r="1.55" fill="#ff7f00"/>
<circle cx="612.3" cy="547.6" r="1.55" fill="#ff7f00"/>
<circle cx="616.2" cy="547.6" r="1.55" fill="#00c000"/>
<circle cx="586.1" cy="526.25" r="1.55" fill="#00c000"/>
<circle cx="586.1" cy="528.3" r="1.55" fill="#ff7f00"/>
<circle cx="587.1" cy="547.1" r="1.55" fill="#ff7f00"/>
</svg>
</body></html>
